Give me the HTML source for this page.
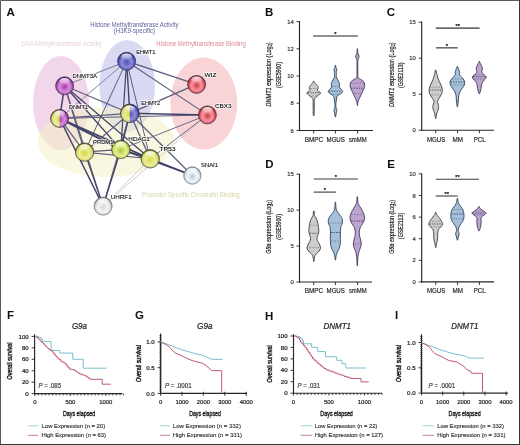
<!DOCTYPE html>
<html><head><meta charset="utf-8"><style>
html,body{margin:0;padding:0;background:#fff;}
svg{display:block;will-change:transform;}
text{font-family:"Liberation Sans", sans-serif;}
</style></head><body>
<svg width="520" height="445" viewBox="0 0 520 445">
<rect x="0" y="0" width="520" height="445" fill="#fff"/>
<defs>
<radialGradient id="gblue" cx="0.5" cy="0.56" r="0.52"><stop offset="0" stop-color="#5050b4"/><stop offset="0.55" stop-color="#8c8cd8"/><stop offset="0.84" stop-color="#5a5abc"/><stop offset="1" stop-color="#26266e"/></radialGradient>
<radialGradient id="gmag" cx="0.5" cy="0.56" r="0.52"><stop offset="0" stop-color="#a838b0"/><stop offset="0.55" stop-color="#d690d8"/><stop offset="0.84" stop-color="#b04cb8"/><stop offset="1" stop-color="#5e1664"/></radialGradient>
<radialGradient id="gred" cx="0.5" cy="0.56" r="0.52"><stop offset="0" stop-color="#d83848"/><stop offset="0.55" stop-color="#f49aa2"/><stop offset="0.84" stop-color="#dc4a58"/><stop offset="1" stop-color="#8c1a28"/></radialGradient>
<radialGradient id="gyel" cx="0.5" cy="0.56" r="0.52"><stop offset="0" stop-color="#d2dc3c"/><stop offset="0.55" stop-color="#ececa0"/><stop offset="0.84" stop-color="#d6d660"/><stop offset="1" stop-color="#6e6e1c"/></radialGradient>
<radialGradient id="ggrn" cx="0.5" cy="0.56" r="0.52"><stop offset="0" stop-color="#a8cc30"/><stop offset="0.55" stop-color="#e4ee98"/><stop offset="0.84" stop-color="#ccdc58"/><stop offset="1" stop-color="#6a7a1a"/></radialGradient>
<radialGradient id="gwht" cx="0.5" cy="0.56" r="0.52"><stop offset="0" stop-color="#d8d8d8"/><stop offset="0.55" stop-color="#f4f4f4"/><stop offset="0.84" stop-color="#d6d6d6"/><stop offset="1" stop-color="#7c7c7c"/></radialGradient>
<radialGradient id="gsna" cx="0.5" cy="0.56" r="0.52"><stop offset="0" stop-color="#b8ccd4"/><stop offset="0.55" stop-color="#f0f5f8"/><stop offset="0.84" stop-color="#cfdce2"/><stop offset="1" stop-color="#76868e"/></radialGradient>
<linearGradient id="ghl" x1="0" y1="0" x2="0" y2="1"><stop offset="0" stop-color="#fff" stop-opacity="0.9"/><stop offset="1" stop-color="#fff" stop-opacity="0.05"/></linearGradient>
</defs>
<ellipse cx="61" cy="103" rx="28" ry="47" fill="#f2d6ea"/>
<ellipse cx="127.2" cy="86" rx="27.8" ry="46" fill="#d6d6f3" opacity="0.92"/>
<ellipse cx="203.8" cy="103.5" rx="33.5" ry="46" fill="#f8d4d6"/>
<ellipse cx="106" cy="142" rx="68" ry="35" fill="#f4f1c4" opacity="0.55"/>
<text x="134.30" y="26.80" font-size="6.3" text-anchor="middle" fill="#5e5e9e" textLength="88.20" lengthAdjust="spacingAndGlyphs" stroke="none">Histone Methyltransferase Activity</text>
<text x="134.50" y="33.30" font-size="6.3" text-anchor="middle" fill="#5e5e9e" textLength="41.30" lengthAdjust="spacingAndGlyphs" stroke="none">(H3K9-specific)</text>
<text x="61.50" y="46.30" font-size="6.5" text-anchor="middle" fill="#e6d2de" textLength="80.40" lengthAdjust="spacingAndGlyphs" stroke="none">DNA Methyltransferase Activity</text>
<text x="201.00" y="46.10" font-size="6.5" text-anchor="middle" fill="#dc8898" textLength="89.30" lengthAdjust="spacingAndGlyphs" stroke="none">Histone Methyltransferase Binding</text>
<text x="190.80" y="197.30" font-size="6.5" text-anchor="middle" fill="#d6d4a2" textLength="97.70" lengthAdjust="spacingAndGlyphs" stroke="none">Promoter Specific Chromatin Binding</text>
<line x1="126.60" y1="61.20" x2="64.60" y2="85.80" stroke="#8686a4" stroke-width="1.1" />
<line x1="126.60" y1="61.20" x2="196.60" y2="84.40" stroke="#5c5c7c" stroke-width="1.3" />
<line x1="126.60" y1="61.20" x2="207.40" y2="114.90" stroke="#5c5c7c" stroke-width="1.1" />
<line x1="126.60" y1="61.20" x2="129.80" y2="113.30" stroke="#44446a" stroke-width="1.4" />
<line x1="126.60" y1="61.20" x2="120.80" y2="149.40" stroke="#44446a" stroke-width="1.2" />
<line x1="126.60" y1="61.20" x2="150.20" y2="158.80" stroke="#5c5c7c" stroke-width="1.0" />
<line x1="126.60" y1="61.20" x2="84.60" y2="152.10" stroke="#5c5c7c" stroke-width="1.0" />
<line x1="126.60" y1="61.20" x2="59.60" y2="118.40" stroke="#8686a4" stroke-width="1.0" />
<line x1="64.60" y1="85.80" x2="59.60" y2="118.40" stroke="#44446a" stroke-width="1.5" />
<line x1="64.60" y1="85.80" x2="129.80" y2="113.30" stroke="#5c5c7c" stroke-width="1.2" />
<line x1="64.60" y1="85.80" x2="120.80" y2="149.40" stroke="#44446a" stroke-width="1.4" />
<line x1="64.60" y1="85.80" x2="150.20" y2="158.80" stroke="#44446a" stroke-width="1.3" />
<line x1="64.60" y1="85.80" x2="84.60" y2="152.10" stroke="#5c5c7c" stroke-width="1.2" />
<line x1="64.60" y1="85.80" x2="103.10" y2="206.10" stroke="#5c5c7c" stroke-width="1.2" />
<line x1="59.60" y1="118.40" x2="129.80" y2="113.30" stroke="#5c5c7c" stroke-width="1.3" />
<line x1="59.60" y1="118.40" x2="120.80" y2="149.40" stroke="#44446a" stroke-width="1.9" />
<line x1="59.60" y1="118.40" x2="150.20" y2="158.80" stroke="#44446a" stroke-width="1.7" />
<line x1="59.60" y1="118.40" x2="84.60" y2="152.10" stroke="#5c5c7c" stroke-width="1.2" />
<line x1="59.60" y1="118.40" x2="103.10" y2="206.10" stroke="#44446a" stroke-width="1.4" />
<line x1="59.60" y1="118.40" x2="207.40" y2="114.90" stroke="#5c5c7c" stroke-width="1.0" />
<line x1="129.80" y1="113.30" x2="196.60" y2="84.40" stroke="#5c5c7c" stroke-width="1.3" />
<line x1="129.80" y1="113.30" x2="207.40" y2="114.90" stroke="#44446a" stroke-width="1.5" />
<line x1="129.80" y1="113.30" x2="120.80" y2="149.40" stroke="#44446a" stroke-width="1.6" />
<line x1="129.80" y1="113.30" x2="150.20" y2="158.80" stroke="#5c5c7c" stroke-width="1.3" />
<line x1="129.80" y1="113.30" x2="84.60" y2="152.10" stroke="#5c5c7c" stroke-width="1.2" />
<line x1="129.80" y1="113.30" x2="103.10" y2="206.10" stroke="#5c5c7c" stroke-width="1.1" />
<line x1="129.80" y1="113.30" x2="192.30" y2="175.50" stroke="#5c5c7c" stroke-width="1.2" />
<line x1="207.40" y1="114.90" x2="150.20" y2="158.80" stroke="#5c5c7c" stroke-width="0.9" />
<line x1="207.40" y1="114.90" x2="120.80" y2="149.40" stroke="#5c5c7c" stroke-width="0.9" />
<line x1="207.40" y1="114.90" x2="103.10" y2="206.10" stroke="#b0b0c6" stroke-width="0.6" />
<line x1="84.60" y1="152.10" x2="120.80" y2="149.40" stroke="#5c5c7c" stroke-width="1.3" />
<line x1="84.60" y1="152.10" x2="150.20" y2="158.80" stroke="#5c5c7c" stroke-width="1.1" />
<line x1="84.60" y1="152.10" x2="103.10" y2="206.10" stroke="#44446a" stroke-width="1.2" />
<line x1="120.80" y1="149.40" x2="150.20" y2="158.80" stroke="#44446a" stroke-width="1.7" />
<line x1="120.80" y1="149.40" x2="103.10" y2="206.10" stroke="#44446a" stroke-width="1.5" />
<line x1="120.80" y1="149.40" x2="192.30" y2="175.50" stroke="#44446a" stroke-width="1.3" />
<line x1="150.20" y1="158.80" x2="192.30" y2="175.50" stroke="#44446a" stroke-width="1.8" />
<line x1="150.20" y1="158.80" x2="103.10" y2="206.10" stroke="#b0b0c6" stroke-width="0.6" />
<circle cx="126.6" cy="61.2" r="9.0" fill="url(#gblue)" stroke="#30304a" stroke-width="0.7"/>
<circle cx="64.6" cy="85.8" r="9.0" fill="url(#gmag)" stroke="#30304a" stroke-width="0.7"/>
<circle cx="196.6" cy="84.4" r="9.0" fill="url(#gred)" stroke="#30304a" stroke-width="0.7"/>
<clipPath id="clDNMT1"><rect x="49.6" y="108.4" width="10.0" height="20.0"/></clipPath>
<circle cx="59.6" cy="118.4" r="9.0" fill="url(#gmag)"/>
<circle cx="59.6" cy="118.4" r="9.0" fill="url(#gyel)" clip-path="url(#clDNMT1)"/>
<circle cx="59.6" cy="118.4" r="9.0" fill="none" stroke="#30304a" stroke-width="0.7"/>
<clipPath id="clEHMT2"><rect x="119.50000000000001" y="103.0" width="10.3" height="20.6"/></clipPath>
<circle cx="129.8" cy="113.3" r="9.3" fill="url(#gblue)"/>
<circle cx="129.8" cy="113.3" r="9.3" fill="url(#gyel)" clip-path="url(#clEHMT2)"/>
<circle cx="129.8" cy="113.3" r="9.3" fill="none" stroke="#30304a" stroke-width="0.7"/>
<circle cx="207.4" cy="114.9" r="9.0" fill="url(#gred)" stroke="#30304a" stroke-width="0.7"/>
<circle cx="84.6" cy="152.1" r="9.2" fill="url(#gyel)" stroke="#30304a" stroke-width="0.7"/>
<circle cx="120.8" cy="149.4" r="9.2" fill="url(#ggrn)" stroke="#30304a" stroke-width="0.7"/>
<circle cx="150.2" cy="158.8" r="9.2" fill="url(#gyel)" stroke="#30304a" stroke-width="0.7"/>
<circle cx="192.3" cy="175.5" r="8.7" fill="url(#gsna)" stroke="#6a7a84" stroke-width="0.7"/>
<circle cx="103.1" cy="206.1" r="9.0" fill="url(#gwht)" stroke="#6a6a72" stroke-width="0.7"/>
<ellipse cx="126.6" cy="56.400000000000006" rx="5.4" ry="3.0" fill="url(#ghl)"/>
<ellipse cx="64.6" cy="81.0" rx="5.4" ry="3.0" fill="url(#ghl)"/>
<ellipse cx="196.6" cy="79.60000000000001" rx="5.4" ry="3.0" fill="url(#ghl)"/>
<ellipse cx="59.6" cy="113.60000000000001" rx="5.4" ry="3.0" fill="url(#ghl)"/>
<ellipse cx="129.8" cy="108.5" rx="5.4" ry="3.0" fill="url(#ghl)"/>
<ellipse cx="207.4" cy="110.10000000000001" rx="5.4" ry="3.0" fill="url(#ghl)"/>
<ellipse cx="84.6" cy="147.29999999999998" rx="5.4" ry="3.0" fill="url(#ghl)"/>
<ellipse cx="120.8" cy="144.6" rx="5.4" ry="3.0" fill="url(#ghl)"/>
<ellipse cx="150.2" cy="154.0" rx="5.4" ry="3.0" fill="url(#ghl)"/>
<ellipse cx="192.3" cy="170.7" rx="5.4" ry="3.0" fill="url(#ghl)"/>
<ellipse cx="103.1" cy="201.29999999999998" rx="5.4" ry="3.0" fill="url(#ghl)"/>
<text x="136.20" y="54.00" font-size="6.2" text-anchor="start" fill="#fff" textLength="19.30" lengthAdjust="spacingAndGlyphs" stroke="#fff" stroke-width="1.8" stroke-opacity="0.7" stroke-linejoin="round" fill-opacity="0.7">EHMT1</text>
<text x="136.20" y="54.00" font-size="6.2" text-anchor="start" fill="#0c0c0c" textLength="19.30" lengthAdjust="spacingAndGlyphs" stroke="#0c0c0c" stroke-width="0.1">EHMT1</text>
<text x="72.50" y="78.00" font-size="6.2" text-anchor="start" fill="#fff" textLength="24.50" lengthAdjust="spacingAndGlyphs" stroke="#fff" stroke-width="1.8" stroke-opacity="0.7" stroke-linejoin="round" fill-opacity="0.7">DNMT3A</text>
<text x="72.50" y="78.00" font-size="6.2" text-anchor="start" fill="#0c0c0c" textLength="24.50" lengthAdjust="spacingAndGlyphs" stroke="#0c0c0c" stroke-width="0.1">DNMT3A</text>
<text x="204.50" y="76.90" font-size="6.2" text-anchor="start" fill="#fff" textLength="11.90" lengthAdjust="spacingAndGlyphs" stroke="#fff" stroke-width="1.8" stroke-opacity="0.7" stroke-linejoin="round" fill-opacity="0.7">WIZ</text>
<text x="204.50" y="76.90" font-size="6.2" text-anchor="start" fill="#0c0c0c" textLength="11.90" lengthAdjust="spacingAndGlyphs" stroke="#0c0c0c" stroke-width="0.1">WIZ</text>
<text x="68.90" y="109.20" font-size="6.2" text-anchor="start" fill="#fff" textLength="19.00" lengthAdjust="spacingAndGlyphs" stroke="#fff" stroke-width="1.8" stroke-opacity="0.7" stroke-linejoin="round" fill-opacity="0.7">DNMT1</text>
<text x="68.90" y="109.20" font-size="6.2" text-anchor="start" fill="#0c0c0c" textLength="19.00" lengthAdjust="spacingAndGlyphs" stroke="#0c0c0c" stroke-width="0.1">DNMT1</text>
<text x="141.20" y="104.60" font-size="6.2" text-anchor="start" fill="#fff" textLength="18.80" lengthAdjust="spacingAndGlyphs" stroke="#fff" stroke-width="1.8" stroke-opacity="0.7" stroke-linejoin="round" fill-opacity="0.7">EHMT2</text>
<text x="141.20" y="104.60" font-size="6.2" text-anchor="start" fill="#0c0c0c" textLength="18.80" lengthAdjust="spacingAndGlyphs" stroke="#0c0c0c" stroke-width="0.1">EHMT2</text>
<text x="214.90" y="107.50" font-size="6.2" text-anchor="start" fill="#fff" textLength="16.80" lengthAdjust="spacingAndGlyphs" stroke="#fff" stroke-width="1.8" stroke-opacity="0.7" stroke-linejoin="round" fill-opacity="0.7">CBX3</text>
<text x="214.90" y="107.50" font-size="6.2" text-anchor="start" fill="#0c0c0c" textLength="16.80" lengthAdjust="spacingAndGlyphs" stroke="#0c0c0c" stroke-width="0.1">CBX3</text>
<text x="93.00" y="144.00" font-size="6.2" text-anchor="start" fill="#fff" textLength="20.50" lengthAdjust="spacingAndGlyphs" stroke="#fff" stroke-width="1.8" stroke-opacity="0.7" stroke-linejoin="round" fill-opacity="0.7">PRDM1</text>
<text x="93.00" y="144.00" font-size="6.2" text-anchor="start" fill="#0c0c0c" textLength="20.50" lengthAdjust="spacingAndGlyphs" stroke="#0c0c0c" stroke-width="0.1">PRDM1</text>
<text x="128.30" y="141.20" font-size="6.2" text-anchor="start" fill="#fff" textLength="21.50" lengthAdjust="spacingAndGlyphs" stroke="#fff" stroke-width="1.8" stroke-opacity="0.7" stroke-linejoin="round" fill-opacity="0.7">HDAC1</text>
<text x="128.30" y="141.20" font-size="6.2" text-anchor="start" fill="#0c0c0c" textLength="21.50" lengthAdjust="spacingAndGlyphs" stroke="#0c0c0c" stroke-width="0.1">HDAC1</text>
<text x="159.20" y="150.60" font-size="6.2" text-anchor="start" fill="#fff" textLength="16.50" lengthAdjust="spacingAndGlyphs" stroke="#fff" stroke-width="1.8" stroke-opacity="0.7" stroke-linejoin="round" fill-opacity="0.7">TP53</text>
<text x="159.20" y="150.60" font-size="6.2" text-anchor="start" fill="#0c0c0c" textLength="16.50" lengthAdjust="spacingAndGlyphs" stroke="#0c0c0c" stroke-width="0.1">TP53</text>
<text x="201.00" y="167.30" font-size="6.2" text-anchor="start" fill="#fff" textLength="17.00" lengthAdjust="spacingAndGlyphs" stroke="#fff" stroke-width="1.8" stroke-opacity="0.7" stroke-linejoin="round" fill-opacity="0.7">SNAI1</text>
<text x="201.00" y="167.30" font-size="6.2" text-anchor="start" fill="#0c0c0c" textLength="17.00" lengthAdjust="spacingAndGlyphs" stroke="#0c0c0c" stroke-width="0.1">SNAI1</text>
<text x="110.70" y="199.00" font-size="6.2" text-anchor="start" fill="#fff" textLength="21.00" lengthAdjust="spacingAndGlyphs" stroke="#fff" stroke-width="1.8" stroke-opacity="0.7" stroke-linejoin="round" fill-opacity="0.7">UHRF1</text>
<text x="110.70" y="199.00" font-size="6.2" text-anchor="start" fill="#0c0c0c" textLength="21.00" lengthAdjust="spacingAndGlyphs" stroke="#0c0c0c" stroke-width="0.1">UHRF1</text>
<text x="6.40" y="15.90" font-size="11.5" text-anchor="start" font-weight="bold" fill="#111" >A</text>
<text x="265.10" y="15.90" font-size="11.5" text-anchor="start" font-weight="bold" fill="#111" >B</text>
<text x="386.80" y="16.00" font-size="11.5" text-anchor="start" font-weight="bold" fill="#111" >C</text>
<text x="265.30" y="167.80" font-size="11.5" text-anchor="start" font-weight="bold" fill="#111" >D</text>
<text x="387.30" y="167.80" font-size="11.5" text-anchor="start" font-weight="bold" fill="#111" >E</text>
<text x="7.10" y="319.20" font-size="11.5" text-anchor="start" font-weight="bold" fill="#111" >F</text>
<text x="134.90" y="319.30" font-size="11.5" text-anchor="start" font-weight="bold" fill="#111" >G</text>
<text x="264.90" y="319.60" font-size="11.5" text-anchor="start" font-weight="bold" fill="#111" >H</text>
<text x="395.00" y="319.00" font-size="11.5" text-anchor="start" font-weight="bold" fill="#111" >I</text>
<line x1="299.50" y1="21.00" x2="299.50" y2="131.05" stroke="#262626" stroke-width="1.15" />
<line x1="298.95" y1="130.50" x2="373.00" y2="130.50" stroke="#262626" stroke-width="1.15" />
<line x1="296.50" y1="21.60" x2="299.50" y2="21.60" stroke="#262626" stroke-width="0.9" />
<text x="293.70" y="23.70" font-size="5.9" text-anchor="end" fill="#333" stroke="#333" stroke-width="0.16" >14</text>
<line x1="296.50" y1="48.80" x2="299.50" y2="48.80" stroke="#262626" stroke-width="0.9" />
<text x="293.70" y="50.90" font-size="5.9" text-anchor="end" fill="#333" stroke="#333" stroke-width="0.16" >12</text>
<line x1="296.50" y1="76.00" x2="299.50" y2="76.00" stroke="#262626" stroke-width="0.9" />
<text x="293.70" y="78.10" font-size="5.9" text-anchor="end" fill="#333" stroke="#333" stroke-width="0.16" >10</text>
<line x1="296.50" y1="103.20" x2="299.50" y2="103.20" stroke="#262626" stroke-width="0.9" />
<text x="293.70" y="105.30" font-size="5.9" text-anchor="end" fill="#333" stroke="#333" stroke-width="0.16" >8</text>
<line x1="296.50" y1="130.40" x2="299.50" y2="130.40" stroke="#262626" stroke-width="0.9" />
<text x="293.70" y="132.50" font-size="5.9" text-anchor="end" fill="#333" stroke="#333" stroke-width="0.16" >6</text>
<line x1="313.70" y1="130.50" x2="313.70" y2="133.50" stroke="#262626" stroke-width="0.9" />
<text x="314.00" y="141.80" font-size="6.5" text-anchor="middle" fill="#222" textLength="18.50" lengthAdjust="spacingAndGlyphs" stroke="#222" stroke-width="0.16" >BMPC</text>
<line x1="335.40" y1="130.50" x2="335.40" y2="133.50" stroke="#262626" stroke-width="0.9" />
<text x="335.70" y="141.80" font-size="6.5" text-anchor="middle" fill="#222" textLength="18.30" lengthAdjust="spacingAndGlyphs" stroke="#222" stroke-width="0.16" >MGUS</text>
<line x1="357.50" y1="130.50" x2="357.50" y2="133.50" stroke="#262626" stroke-width="0.9" />
<text x="357.80" y="141.80" font-size="6.5" text-anchor="middle" fill="#222" textLength="17.80" lengthAdjust="spacingAndGlyphs" stroke="#222" stroke-width="0.16" >smMM</text>
<text transform="translate(271.00,74.40) rotate(-90)" x="0" y="0" font-size="7" text-anchor="middle" fill="#222" textLength="64.20" lengthAdjust="spacingAndGlyphs" stroke="#222" stroke-width="0.2"><tspan font-style="italic">DNMT1</tspan> expression (Log<tspan font-size="4.8" dy="1.3">2</tspan><tspan dy="-1.3">)</tspan></text>
<text transform="translate(280.70,75.00) rotate(-90)" x="0" y="0" font-size="7" text-anchor="middle" fill="#222" textLength="26.00" lengthAdjust="spacingAndGlyphs" stroke="#222" stroke-width="0.2">(GSE5900)</text>
<line x1="313.10" y1="36.00" x2="357.80" y2="36.00" stroke="#6c6c6c" stroke-width="1.6" />
<text x="335.45" y="35.70" font-size="5.6" text-anchor="middle" fill="#222" stroke="#222" stroke-width="0.25">*</text>
<path d="M314.00,81.20 C314.08,81.42 314.12,81.95 314.50,82.50 C314.88,83.05 315.77,83.83 316.30,84.50 C316.83,85.17 317.38,85.87 317.70,86.50 C318.02,87.13 318.28,87.72 318.20,88.30 C318.12,88.88 317.20,89.52 317.20,90.00 C317.20,90.48 317.62,90.70 318.20,91.20 C318.78,91.70 320.62,92.37 320.70,93.00 C320.78,93.63 319.43,94.33 318.70,95.00 C317.97,95.67 316.97,96.40 316.30,97.00 C315.63,97.60 315.05,97.93 314.70,98.60 C314.35,99.27 314.27,99.93 314.20,101.00 C314.13,102.07 314.31,103.67 314.30,105.00 C314.29,106.33 314.15,107.83 314.15,109.00 C314.15,110.17 314.32,110.90 314.30,112.00 C314.28,113.10 314.05,115.00 314.00,115.60 L313.40,115.60 C313.35,115.00 313.12,113.10 313.10,112.00 C313.07,110.90 313.25,110.17 313.25,109.00 C313.25,107.83 313.11,106.33 313.10,105.00 C313.09,103.67 313.27,102.07 313.20,101.00 C313.13,99.93 313.05,99.27 312.70,98.60 C312.35,97.93 311.77,97.60 311.10,97.00 C310.43,96.40 309.43,95.67 308.70,95.00 C307.97,94.33 306.62,93.63 306.70,93.00 C306.78,92.37 308.62,91.70 309.20,91.20 C309.78,90.70 310.20,90.48 310.20,90.00 C310.20,89.52 309.28,88.88 309.20,88.30 C309.12,87.72 309.38,87.13 309.70,86.50 C310.02,85.87 310.57,85.17 311.10,84.50 C311.63,83.83 312.52,83.05 312.90,82.50 C313.28,81.95 313.32,81.42 313.40,81.20Z" fill="#cdcdce" stroke="#363636" stroke-width="0.85" stroke-linejoin="round"/>
<line x1="309.92" y1="88.50" x2="317.48" y2="88.50" stroke="#363636" stroke-width="0.55" stroke-dasharray="0.6,0.9"/>
<line x1="307.58" y1="92.80" x2="319.82" y2="92.80" stroke="#363636" stroke-width="0.8" stroke-dasharray="1.4,1.1"/>
<line x1="310.50" y1="96.00" x2="316.90" y2="96.00" stroke="#363636" stroke-width="0.55" stroke-dasharray="0.6,0.9"/>
<path d="M335.70,65.40 C335.75,65.75 335.80,66.73 336.00,67.50 C336.20,68.27 336.88,69.25 336.90,70.00 C336.92,70.75 336.15,71.42 336.10,72.00 C336.05,72.58 336.58,72.92 336.60,73.50 C336.62,74.08 336.20,74.75 336.20,75.50 C336.20,76.25 336.32,77.25 336.60,78.00 C336.88,78.75 337.48,79.25 337.90,80.00 C338.32,80.75 338.80,81.67 339.10,82.50 C339.40,83.33 339.72,84.25 339.70,85.00 C339.68,85.75 338.75,86.28 339.00,87.00 C339.25,87.72 340.60,88.50 341.20,89.30 C341.80,90.10 342.65,91.08 342.60,91.80 C342.55,92.52 341.72,92.98 340.90,93.60 C340.08,94.22 338.38,94.85 337.70,95.50 C337.02,96.15 337.02,96.75 336.80,97.50 C336.58,98.25 336.55,99.08 336.40,100.00 C336.25,100.92 335.98,101.92 335.90,103.00 C335.82,104.08 335.83,105.58 335.90,106.50 C335.97,107.42 336.13,107.78 336.30,108.50 C336.47,109.22 336.92,110.05 336.90,110.80 C336.88,111.55 336.40,112.00 336.20,113.00 C336.00,114.00 335.78,116.17 335.70,116.80 L335.10,116.80 C335.02,116.17 334.80,114.00 334.60,113.00 C334.40,112.00 333.92,111.55 333.90,110.80 C333.88,110.05 334.33,109.22 334.50,108.50 C334.67,107.78 334.83,107.42 334.90,106.50 C334.97,105.58 334.98,104.08 334.90,103.00 C334.82,101.92 334.55,100.92 334.40,100.00 C334.25,99.08 334.22,98.25 334.00,97.50 C333.78,96.75 333.78,96.15 333.10,95.50 C332.42,94.85 330.72,94.22 329.90,93.60 C329.08,92.98 328.25,92.52 328.20,91.80 C328.15,91.08 329.00,90.10 329.60,89.30 C330.20,88.50 331.55,87.72 331.80,87.00 C332.05,86.28 331.12,85.75 331.10,85.00 C331.08,84.25 331.40,83.33 331.70,82.50 C332.00,81.67 332.48,80.75 332.90,80.00 C333.32,79.25 333.92,78.75 334.20,78.00 C334.48,77.25 334.60,76.25 334.60,75.50 C334.60,74.75 334.18,74.08 334.20,73.50 C334.22,72.92 334.75,72.58 334.70,72.00 C334.65,71.42 333.88,70.75 333.90,70.00 C333.92,69.25 334.60,68.27 334.80,67.50 C335.00,66.73 335.05,65.75 335.10,65.40Z" fill="#a4c0da" stroke="#2a3a4c" stroke-width="0.85" stroke-linejoin="round"/>
<line x1="332.23" y1="86.50" x2="338.57" y2="86.50" stroke="#2a3a4c" stroke-width="0.55" stroke-dasharray="0.6,0.9"/>
<line x1="329.14" y1="91.20" x2="341.66" y2="91.20" stroke="#2a3a4c" stroke-width="0.8" stroke-dasharray="1.4,1.1"/>
<line x1="331.68" y1="94.30" x2="339.12" y2="94.30" stroke="#2a3a4c" stroke-width="0.55" stroke-dasharray="0.6,0.9"/>
<path d="M357.60,48.70 C357.62,49.25 357.68,51.20 357.75,52.00 C357.82,52.80 357.84,53.00 358.00,53.50 C358.16,54.00 358.52,54.47 358.70,55.00 C358.88,55.53 359.12,56.15 359.10,56.70 C359.08,57.25 358.78,57.80 358.60,58.30 C358.42,58.80 358.13,59.17 358.00,59.70 C357.87,60.23 357.83,59.78 357.80,61.50 C357.77,63.22 357.79,67.42 357.80,70.00 C357.81,72.58 357.75,75.63 357.85,77.00 C357.95,78.37 357.97,77.83 358.40,78.20 C358.82,78.57 359.73,78.82 360.40,79.20 C361.07,79.58 361.82,80.03 362.40,80.50 C362.98,80.97 363.53,81.42 363.90,82.00 C364.27,82.58 364.48,83.25 364.60,84.00 C364.72,84.75 364.70,85.75 364.60,86.50 C364.50,87.25 364.30,87.75 364.00,88.50 C363.70,89.25 363.23,90.08 362.80,91.00 C362.37,91.92 361.87,93.00 361.40,94.00 C360.93,95.00 360.45,96.00 360.00,97.00 C359.55,98.00 359.05,99.17 358.70,100.00 C358.35,100.83 358.07,101.42 357.90,102.00 C357.73,102.58 357.75,102.92 357.70,103.50 C357.65,104.08 357.62,105.17 357.60,105.50 L357.20,105.50 C357.18,105.17 357.15,104.08 357.10,103.50 C357.05,102.92 357.07,102.58 356.90,102.00 C356.73,101.42 356.45,100.83 356.10,100.00 C355.75,99.17 355.25,98.00 354.80,97.00 C354.35,96.00 353.87,95.00 353.40,94.00 C352.93,93.00 352.43,91.92 352.00,91.00 C351.57,90.08 351.10,89.25 350.80,88.50 C350.50,87.75 350.30,87.25 350.20,86.50 C350.10,85.75 350.08,84.75 350.20,84.00 C350.32,83.25 350.53,82.58 350.90,82.00 C351.27,81.42 351.82,80.97 352.40,80.50 C352.98,80.03 353.73,79.58 354.40,79.20 C355.07,78.82 355.97,78.57 356.40,78.20 C356.82,77.83 356.85,78.37 356.95,77.00 C357.05,75.63 356.99,72.58 357.00,70.00 C357.01,67.42 357.03,63.22 357.00,61.50 C356.97,59.78 356.93,60.23 356.80,59.70 C356.67,59.17 356.38,58.80 356.20,58.30 C356.02,57.80 355.72,57.25 355.70,56.70 C355.68,56.15 355.92,55.53 356.10,55.00 C356.28,54.47 356.64,54.00 356.80,53.50 C356.96,53.00 356.98,52.80 357.05,52.00 C357.12,51.20 357.17,49.25 357.20,48.70Z" fill="#bca4d0" stroke="#3e2e4a" stroke-width="0.85" stroke-linejoin="round"/>
<line x1="351.15" y1="83.00" x2="363.65" y2="83.00" stroke="#3e2e4a" stroke-width="0.55" stroke-dasharray="0.6,0.9"/>
<line x1="351.31" y1="88.20" x2="363.49" y2="88.20" stroke="#3e2e4a" stroke-width="0.8" stroke-dasharray="1.4,1.1"/>
<line x1="353.77" y1="93.50" x2="361.03" y2="93.50" stroke="#3e2e4a" stroke-width="0.55" stroke-dasharray="0.6,0.9"/>
<line x1="421.70" y1="21.60" x2="421.70" y2="130.75" stroke="#262626" stroke-width="1.15" />
<line x1="421.15" y1="130.20" x2="494.00" y2="130.20" stroke="#262626" stroke-width="1.15" />
<line x1="418.70" y1="22.20" x2="421.70" y2="22.20" stroke="#262626" stroke-width="0.9" />
<text x="415.90" y="24.30" font-size="5.9" text-anchor="end" fill="#333" stroke="#333" stroke-width="0.16" >15</text>
<line x1="418.70" y1="58.20" x2="421.70" y2="58.20" stroke="#262626" stroke-width="0.9" />
<text x="415.90" y="60.30" font-size="5.9" text-anchor="end" fill="#333" stroke="#333" stroke-width="0.16" >10</text>
<line x1="418.70" y1="94.20" x2="421.70" y2="94.20" stroke="#262626" stroke-width="0.9" />
<text x="415.90" y="96.30" font-size="5.9" text-anchor="end" fill="#333" stroke="#333" stroke-width="0.16" >5</text>
<line x1="418.70" y1="130.20" x2="421.70" y2="130.20" stroke="#262626" stroke-width="0.9" />
<text x="415.90" y="132.30" font-size="5.9" text-anchor="end" fill="#333" stroke="#333" stroke-width="0.16" >0</text>
<line x1="435.80" y1="130.20" x2="435.80" y2="133.20" stroke="#262626" stroke-width="0.9" />
<text x="436.10" y="141.50" font-size="6.5" text-anchor="middle" fill="#222" textLength="18.30" lengthAdjust="spacingAndGlyphs" stroke="#222" stroke-width="0.16" >MGUS</text>
<line x1="457.50" y1="130.20" x2="457.50" y2="133.20" stroke="#262626" stroke-width="0.9" />
<text x="457.80" y="141.50" font-size="6.5" text-anchor="middle" fill="#222" textLength="10.50" lengthAdjust="spacingAndGlyphs" stroke="#222" stroke-width="0.16" >MM</text>
<line x1="479.40" y1="130.20" x2="479.40" y2="133.20" stroke="#262626" stroke-width="0.9" />
<text x="479.70" y="141.50" font-size="6.5" text-anchor="middle" fill="#222" textLength="12.00" lengthAdjust="spacingAndGlyphs" stroke="#222" stroke-width="0.16" >PCL</text>
<text transform="translate(393.50,74.60) rotate(-90)" x="0" y="0" font-size="7" text-anchor="middle" fill="#222" textLength="64.60" lengthAdjust="spacingAndGlyphs" stroke="#222" stroke-width="0.2"><tspan font-style="italic">DNMT1</tspan> expression (Log<tspan font-size="4.8" dy="1.3">2</tspan><tspan dy="-1.3">)</tspan></text>
<text transform="translate(402.60,75.30) rotate(-90)" x="0" y="0" font-size="7" text-anchor="middle" fill="#222" textLength="25.50" lengthAdjust="spacingAndGlyphs" stroke="#222" stroke-width="0.2">(GSE2113)</text>
<line x1="435.80" y1="28.10" x2="479.60" y2="28.10" stroke="#6c6c6c" stroke-width="1.6" />
<text x="457.70" y="27.80" font-size="5.6" text-anchor="middle" fill="#222" stroke="#222" stroke-width="0.25">**</text>
<line x1="435.80" y1="47.80" x2="457.70" y2="47.80" stroke="#6c6c6c" stroke-width="1.6" />
<text x="446.75" y="47.50" font-size="5.6" text-anchor="middle" fill="#222" stroke="#222" stroke-width="0.25">*</text>
<path d="M436.00,70.20 C436.05,70.50 436.12,71.20 436.30,72.00 C436.48,72.80 436.83,74.00 437.10,75.00 C437.37,76.00 437.58,77.00 437.90,78.00 C438.22,79.00 438.57,80.00 439.00,81.00 C439.43,82.00 440.05,83.00 440.50,84.00 C440.95,85.00 441.40,86.00 441.70,87.00 C442.00,88.00 442.25,89.00 442.30,90.00 C442.35,91.00 442.30,92.00 442.00,93.00 C441.70,94.00 441.02,95.08 440.50,96.00 C439.98,96.92 439.42,97.58 438.90,98.50 C438.38,99.42 437.53,100.58 437.40,101.50 C437.27,102.42 437.90,103.17 438.10,104.00 C438.30,104.83 438.57,105.67 438.60,106.50 C438.63,107.33 438.48,108.17 438.30,109.00 C438.12,109.83 437.78,110.67 437.50,111.50 C437.22,112.33 436.82,113.17 436.60,114.00 C436.38,114.83 436.30,115.77 436.20,116.50 C436.10,117.23 436.03,118.08 436.00,118.40 L435.40,118.40 C435.37,118.08 435.30,117.23 435.20,116.50 C435.10,115.77 435.02,114.83 434.80,114.00 C434.58,113.17 434.18,112.33 433.90,111.50 C433.62,110.67 433.28,109.83 433.10,109.00 C432.92,108.17 432.77,107.33 432.80,106.50 C432.83,105.67 433.10,104.83 433.30,104.00 C433.50,103.17 434.13,102.42 434.00,101.50 C433.87,100.58 433.02,99.42 432.50,98.50 C431.98,97.58 431.42,96.92 430.90,96.00 C430.38,95.08 429.70,94.00 429.40,93.00 C429.10,92.00 429.05,91.00 429.10,90.00 C429.15,89.00 429.40,88.00 429.70,87.00 C430.00,86.00 430.45,85.00 430.90,84.00 C431.35,83.00 431.97,82.00 432.40,81.00 C432.83,80.00 433.18,79.00 433.50,78.00 C433.82,77.00 434.03,76.00 434.30,75.00 C434.57,74.00 434.92,72.80 435.10,72.00 C435.28,71.20 435.35,70.50 435.40,70.20Z" fill="#cdcdce" stroke="#363636" stroke-width="0.85" stroke-linejoin="round"/>
<line x1="430.26" y1="87.20" x2="441.14" y2="87.20" stroke="#363636" stroke-width="0.55" stroke-dasharray="0.6,0.9"/>
<line x1="429.70" y1="90.00" x2="441.70" y2="90.00" stroke="#363636" stroke-width="0.8" stroke-dasharray="1.4,1.1"/>
<line x1="430.90" y1="94.80" x2="440.50" y2="94.80" stroke="#363636" stroke-width="0.55" stroke-dasharray="0.6,0.9"/>
<path d="M457.70,66.60 C457.82,66.92 458.18,67.90 458.40,68.50 C458.62,69.10 458.78,69.55 459.00,70.20 C459.22,70.85 459.62,71.68 459.70,72.40 C459.78,73.12 459.38,73.90 459.50,74.50 C459.62,75.10 459.92,75.42 460.40,76.00 C460.88,76.58 461.82,77.33 462.40,78.00 C462.98,78.67 463.52,79.33 463.90,80.00 C464.28,80.67 464.62,81.17 464.70,82.00 C464.78,82.83 464.78,84.00 464.40,85.00 C464.02,86.00 463.07,87.00 462.40,88.00 C461.73,89.00 460.90,90.17 460.40,91.00 C459.90,91.83 459.68,92.17 459.40,93.00 C459.12,93.83 458.87,94.83 458.70,96.00 C458.53,97.17 458.50,98.75 458.40,100.00 C458.30,101.25 458.22,102.38 458.10,103.50 C457.98,104.62 457.77,106.17 457.70,106.70 L457.10,106.70 C457.03,106.17 456.82,104.62 456.70,103.50 C456.58,102.38 456.50,101.25 456.40,100.00 C456.30,98.75 456.27,97.17 456.10,96.00 C455.93,94.83 455.68,93.83 455.40,93.00 C455.12,92.17 454.90,91.83 454.40,91.00 C453.90,90.17 453.07,89.00 452.40,88.00 C451.73,87.00 450.78,86.00 450.40,85.00 C450.02,84.00 450.02,82.83 450.10,82.00 C450.18,81.17 450.52,80.67 450.90,80.00 C451.28,79.33 451.82,78.67 452.40,78.00 C452.98,77.33 453.92,76.58 454.40,76.00 C454.88,75.42 455.18,75.10 455.30,74.50 C455.42,73.90 455.02,73.12 455.10,72.40 C455.18,71.68 455.58,70.85 455.80,70.20 C456.02,69.55 456.18,69.10 456.40,68.50 C456.62,67.90 456.98,66.92 457.10,66.60Z" fill="#a4c0da" stroke="#2a3a4c" stroke-width="0.85" stroke-linejoin="round"/>
<line x1="452.25" y1="79.00" x2="462.55" y2="79.00" stroke="#2a3a4c" stroke-width="0.55" stroke-dasharray="0.6,0.9"/>
<line x1="450.70" y1="82.00" x2="464.10" y2="82.00" stroke="#2a3a4c" stroke-width="0.8" stroke-dasharray="1.4,1.1"/>
<line x1="450.98" y1="84.80" x2="463.82" y2="84.80" stroke="#2a3a4c" stroke-width="0.55" stroke-dasharray="0.6,0.9"/>
<path d="M479.60,61.50 C479.72,61.83 479.95,62.75 480.30,63.50 C480.65,64.25 481.35,65.12 481.70,66.00 C482.05,66.88 482.38,67.88 482.40,68.80 C482.42,69.72 481.82,70.80 481.80,71.50 C481.78,72.20 481.85,72.42 482.30,73.00 C482.75,73.58 483.83,74.33 484.50,75.00 C485.17,75.67 486.17,76.33 486.30,77.00 C486.43,77.67 485.80,78.33 485.30,79.00 C484.80,79.67 483.87,80.25 483.30,81.00 C482.73,81.75 482.23,82.67 481.90,83.50 C481.57,84.33 481.45,85.17 481.30,86.00 C481.15,86.83 481.15,87.67 481.00,88.50 C480.85,89.33 480.63,90.15 480.40,91.00 C480.17,91.85 479.73,93.17 479.60,93.60 L479.00,93.60 C478.87,93.17 478.43,91.85 478.20,91.00 C477.97,90.15 477.75,89.33 477.60,88.50 C477.45,87.67 477.45,86.83 477.30,86.00 C477.15,85.17 477.03,84.33 476.70,83.50 C476.37,82.67 475.87,81.75 475.30,81.00 C474.73,80.25 473.80,79.67 473.30,79.00 C472.80,78.33 472.17,77.67 472.30,77.00 C472.43,76.33 473.43,75.67 474.10,75.00 C474.77,74.33 475.85,73.58 476.30,73.00 C476.75,72.42 476.82,72.20 476.80,71.50 C476.78,70.80 476.18,69.72 476.20,68.80 C476.22,67.88 476.55,66.88 476.90,66.00 C477.25,65.12 477.95,64.25 478.30,63.50 C478.65,62.75 478.88,61.83 479.00,61.50Z" fill="#bca4d0" stroke="#3e2e4a" stroke-width="0.85" stroke-linejoin="round"/>
<line x1="475.14" y1="74.60" x2="483.46" y2="74.60" stroke="#3e2e4a" stroke-width="0.55" stroke-dasharray="0.6,0.9"/>
<line x1="473.08" y1="76.80" x2="485.52" y2="76.80" stroke="#3e2e4a" stroke-width="0.8" stroke-dasharray="1.4,1.1"/>
<line x1="474.10" y1="79.20" x2="484.50" y2="79.20" stroke="#3e2e4a" stroke-width="0.55" stroke-dasharray="0.6,0.9"/>
<line x1="299.50" y1="173.60" x2="299.50" y2="282.55" stroke="#262626" stroke-width="1.15" />
<line x1="298.95" y1="282.00" x2="372.00" y2="282.00" stroke="#262626" stroke-width="1.15" />
<line x1="296.50" y1="174.20" x2="299.50" y2="174.20" stroke="#262626" stroke-width="0.9" />
<text x="293.70" y="176.30" font-size="5.9" text-anchor="end" fill="#333" stroke="#333" stroke-width="0.16" >15</text>
<line x1="296.50" y1="210.13" x2="299.50" y2="210.13" stroke="#262626" stroke-width="0.9" />
<text x="293.70" y="212.23" font-size="5.9" text-anchor="end" fill="#333" stroke="#333" stroke-width="0.16" >10</text>
<line x1="296.50" y1="246.07" x2="299.50" y2="246.07" stroke="#262626" stroke-width="0.9" />
<text x="293.70" y="248.17" font-size="5.9" text-anchor="end" fill="#333" stroke="#333" stroke-width="0.16" >5</text>
<line x1="296.50" y1="282.00" x2="299.50" y2="282.00" stroke="#262626" stroke-width="0.9" />
<text x="293.70" y="284.11" font-size="5.9" text-anchor="end" fill="#333" stroke="#333" stroke-width="0.16" >0</text>
<line x1="313.70" y1="282.00" x2="313.70" y2="285.00" stroke="#262626" stroke-width="0.9" />
<text x="314.00" y="293.30" font-size="6.5" text-anchor="middle" fill="#222" textLength="18.50" lengthAdjust="spacingAndGlyphs" stroke="#222" stroke-width="0.16" >BMPC</text>
<line x1="335.40" y1="282.00" x2="335.40" y2="285.00" stroke="#262626" stroke-width="0.9" />
<text x="335.70" y="293.30" font-size="6.5" text-anchor="middle" fill="#222" textLength="18.30" lengthAdjust="spacingAndGlyphs" stroke="#222" stroke-width="0.16" >MGUS</text>
<line x1="357.50" y1="282.00" x2="357.50" y2="285.00" stroke="#262626" stroke-width="0.9" />
<text x="357.80" y="293.30" font-size="6.5" text-anchor="middle" fill="#222" textLength="17.80" lengthAdjust="spacingAndGlyphs" stroke="#222" stroke-width="0.16" >smMM</text>
<text transform="translate(270.90,226.80) rotate(-90)" x="0" y="0" font-size="7" text-anchor="middle" fill="#222" textLength="53.80" lengthAdjust="spacingAndGlyphs" stroke="#222" stroke-width="0.2"><tspan font-style="italic">G9a</tspan> expression (Log<tspan font-size="4.8" dy="1.3">2</tspan><tspan dy="-1.3">)</tspan></text>
<text transform="translate(280.60,227.00) rotate(-90)" x="0" y="0" font-size="7" text-anchor="middle" fill="#222" textLength="25.70" lengthAdjust="spacingAndGlyphs" stroke="#222" stroke-width="0.2">(GSE5900)</text>
<line x1="313.70" y1="179.00" x2="357.80" y2="179.00" stroke="#3c3c3c" stroke-width="1.1" />
<text x="335.75" y="178.70" font-size="5.6" text-anchor="middle" fill="#222" stroke="#222" stroke-width="0.25">*</text>
<line x1="313.70" y1="192.10" x2="335.90" y2="192.10" stroke="#3c3c3c" stroke-width="1.1" />
<text x="324.80" y="191.80" font-size="5.6" text-anchor="middle" fill="#222" stroke="#222" stroke-width="0.25">*</text>
<path d="M314.10,211.00 C314.12,211.33 314.18,212.25 314.25,213.00 C314.32,213.75 314.31,214.83 314.50,215.50 C314.69,216.17 315.02,216.32 315.40,217.00 C315.78,217.68 316.42,218.68 316.80,219.60 C317.18,220.52 317.47,221.55 317.70,222.50 C317.93,223.45 318.03,224.22 318.20,225.30 C318.37,226.38 318.62,227.88 318.70,229.00 C318.78,230.12 318.85,230.93 318.70,232.00 C318.55,233.07 318.07,234.48 317.80,235.40 C317.53,236.32 317.23,236.90 317.10,237.50 C316.97,238.10 316.88,238.33 317.00,239.00 C317.12,239.67 317.42,240.67 317.80,241.50 C318.18,242.33 318.83,242.98 319.30,244.00 C319.77,245.02 320.52,246.60 320.60,247.60 C320.68,248.60 320.18,249.27 319.80,250.00 C319.42,250.73 318.90,251.33 318.30,252.00 C317.70,252.67 316.75,253.42 316.20,254.00 C315.65,254.58 315.30,254.83 315.00,255.50 C314.70,256.17 314.55,257.03 314.40,258.00 C314.25,258.97 314.15,260.75 314.10,261.30 L313.50,261.30 C313.45,260.75 313.35,258.97 313.20,258.00 C313.05,257.03 312.90,256.17 312.60,255.50 C312.30,254.83 311.95,254.58 311.40,254.00 C310.85,253.42 309.90,252.67 309.30,252.00 C308.70,251.33 308.18,250.73 307.80,250.00 C307.42,249.27 306.92,248.60 307.00,247.60 C307.08,246.60 307.83,245.02 308.30,244.00 C308.77,242.98 309.42,242.33 309.80,241.50 C310.18,240.67 310.48,239.67 310.60,239.00 C310.72,238.33 310.63,238.10 310.50,237.50 C310.37,236.90 310.07,236.32 309.80,235.40 C309.53,234.48 309.05,233.07 308.90,232.00 C308.75,230.93 308.82,230.12 308.90,229.00 C308.98,227.88 309.23,226.38 309.40,225.30 C309.57,224.22 309.67,223.45 309.90,222.50 C310.13,221.55 310.42,220.52 310.80,219.60 C311.18,218.68 311.82,217.68 312.20,217.00 C312.58,216.32 312.91,216.17 313.10,215.50 C313.29,214.83 313.28,213.75 313.35,213.00 C313.42,212.25 313.48,211.33 313.50,211.00Z" fill="#cdcdce" stroke="#363636" stroke-width="0.85" stroke-linejoin="round"/>
<line x1="310.00" y1="225.30" x2="317.60" y2="225.30" stroke="#363636" stroke-width="0.55" stroke-dasharray="0.6,0.9"/>
<line x1="309.84" y1="233.30" x2="317.76" y2="233.30" stroke="#363636" stroke-width="0.8" stroke-dasharray="1.4,1.1"/>
<line x1="307.60" y1="247.60" x2="320.00" y2="247.60" stroke="#363636" stroke-width="0.55" stroke-dasharray="0.6,0.9"/>
<path d="M335.70,202.30 C335.72,202.75 335.75,204.05 335.80,205.00 C335.85,205.95 335.90,207.17 336.00,208.00 C336.10,208.83 336.20,209.42 336.40,210.00 C336.60,210.58 336.83,210.92 337.20,211.50 C337.57,212.08 338.13,212.87 338.60,213.50 C339.07,214.13 339.50,214.63 340.00,215.30 C340.50,215.97 341.20,216.78 341.60,217.50 C342.00,218.22 342.27,218.65 342.40,219.60 C342.53,220.55 342.57,222.22 342.40,223.20 C342.23,224.18 341.68,224.78 341.40,225.50 C341.12,226.22 340.87,226.58 340.70,227.50 C340.53,228.42 340.45,229.58 340.40,231.00 C340.35,232.42 340.40,234.30 340.40,236.00 C340.40,237.70 340.43,239.78 340.40,241.20 C340.37,242.62 340.33,243.53 340.20,244.50 C340.07,245.47 339.85,246.17 339.60,247.00 C339.35,247.83 339.00,248.80 338.70,249.50 C338.40,250.20 338.10,250.62 337.80,251.20 C337.50,251.78 337.15,252.40 336.90,253.00 C336.65,253.60 336.47,254.13 336.30,254.80 C336.13,255.47 336.00,256.15 335.90,257.00 C335.80,257.85 335.73,259.42 335.70,259.90 L335.10,259.90 C335.07,259.42 335.00,257.85 334.90,257.00 C334.80,256.15 334.67,255.47 334.50,254.80 C334.33,254.13 334.15,253.60 333.90,253.00 C333.65,252.40 333.30,251.78 333.00,251.20 C332.70,250.62 332.40,250.20 332.10,249.50 C331.80,248.80 331.45,247.83 331.20,247.00 C330.95,246.17 330.73,245.47 330.60,244.50 C330.47,243.53 330.43,242.62 330.40,241.20 C330.37,239.78 330.40,237.70 330.40,236.00 C330.40,234.30 330.45,232.42 330.40,231.00 C330.35,229.58 330.27,228.42 330.10,227.50 C329.93,226.58 329.68,226.22 329.40,225.50 C329.12,224.78 328.57,224.18 328.40,223.20 C328.23,222.22 328.27,220.55 328.40,219.60 C328.53,218.65 328.80,218.22 329.20,217.50 C329.60,216.78 330.30,215.97 330.80,215.30 C331.30,214.63 331.73,214.13 332.20,213.50 C332.67,212.87 333.23,212.08 333.60,211.50 C333.97,210.92 334.20,210.58 334.40,210.00 C334.60,209.42 334.70,208.83 334.80,208.00 C334.90,207.17 334.95,205.95 335.00,205.00 C335.05,204.05 335.08,202.75 335.10,202.30Z" fill="#a4c0da" stroke="#2a3a4c" stroke-width="0.85" stroke-linejoin="round"/>
<line x1="329.00" y1="223.20" x2="341.80" y2="223.20" stroke="#2a3a4c" stroke-width="0.55" stroke-dasharray="0.6,0.9"/>
<line x1="331.00" y1="232.50" x2="339.80" y2="232.50" stroke="#2a3a4c" stroke-width="0.8" stroke-dasharray="1.4,1.1"/>
<line x1="331.00" y1="241.20" x2="339.80" y2="241.20" stroke="#2a3a4c" stroke-width="0.55" stroke-dasharray="0.6,0.9"/>
<path d="M357.50,196.80 C357.53,197.25 357.63,198.55 357.70,199.50 C357.77,200.45 357.77,201.75 357.90,202.50 C358.03,203.25 358.27,203.47 358.50,204.00 C358.73,204.53 358.92,205.03 359.30,205.70 C359.68,206.37 360.30,207.18 360.80,208.00 C361.30,208.82 361.85,209.77 362.30,210.60 C362.75,211.43 363.17,212.20 363.50,213.00 C363.83,213.80 364.12,214.45 364.30,215.40 C364.48,216.35 364.67,217.77 364.60,218.70 C364.53,219.63 364.22,220.18 363.90,221.00 C363.58,221.82 363.13,222.83 362.70,223.60 C362.27,224.37 361.70,224.93 361.30,225.60 C360.90,226.27 360.62,226.73 360.30,227.60 C359.98,228.47 359.55,229.58 359.40,230.80 C359.25,232.02 359.33,233.87 359.40,234.90 C359.47,235.93 359.63,236.32 359.80,237.00 C359.97,237.68 360.15,237.87 360.40,239.00 C360.65,240.13 361.22,242.63 361.30,243.80 C361.38,244.97 361.07,245.32 360.90,246.00 C360.73,246.68 360.55,247.15 360.30,247.90 C360.05,248.65 359.67,249.70 359.40,250.50 C359.13,251.30 358.93,251.78 358.70,252.70 C358.47,253.62 358.17,254.78 358.00,256.00 C357.83,257.22 357.78,258.38 357.70,260.00 C357.62,261.62 357.53,264.75 357.50,265.70 L357.10,265.70 C357.07,264.75 356.98,261.62 356.90,260.00 C356.82,258.38 356.77,257.22 356.60,256.00 C356.43,254.78 356.13,253.62 355.90,252.70 C355.67,251.78 355.47,251.30 355.20,250.50 C354.93,249.70 354.55,248.65 354.30,247.90 C354.05,247.15 353.87,246.68 353.70,246.00 C353.53,245.32 353.22,244.97 353.30,243.80 C353.38,242.63 353.95,240.13 354.20,239.00 C354.45,237.87 354.63,237.68 354.80,237.00 C354.97,236.32 355.13,235.93 355.20,234.90 C355.27,233.87 355.35,232.02 355.20,230.80 C355.05,229.58 354.62,228.47 354.30,227.60 C353.98,226.73 353.70,226.27 353.30,225.60 C352.90,224.93 352.33,224.37 351.90,223.60 C351.47,222.83 351.02,221.82 350.70,221.00 C350.38,220.18 350.07,219.63 350.00,218.70 C349.93,217.77 350.12,216.35 350.30,215.40 C350.48,214.45 350.77,213.80 351.10,213.00 C351.43,212.20 351.85,211.43 352.30,210.60 C352.75,209.77 353.30,208.82 353.80,208.00 C354.30,207.18 354.92,206.37 355.30,205.70 C355.68,205.03 355.87,204.53 356.10,204.00 C356.33,203.47 356.57,203.25 356.70,202.50 C356.83,201.75 356.83,200.45 356.90,199.50 C356.97,198.55 357.07,197.25 357.10,196.80Z" fill="#bca4d0" stroke="#3e2e4a" stroke-width="0.85" stroke-linejoin="round"/>
<line x1="351.17" y1="214.60" x2="363.43" y2="214.60" stroke="#3e2e4a" stroke-width="0.55" stroke-dasharray="0.6,0.9"/>
<line x1="351.35" y1="221.10" x2="363.25" y2="221.10" stroke="#3e2e4a" stroke-width="0.8" stroke-dasharray="1.4,1.1"/>
<line x1="353.90" y1="243.80" x2="360.70" y2="243.80" stroke="#3e2e4a" stroke-width="0.55" stroke-dasharray="0.6,0.9"/>
<line x1="421.70" y1="173.30" x2="421.70" y2="282.45" stroke="#262626" stroke-width="1.15" />
<line x1="421.15" y1="281.90" x2="494.00" y2="281.90" stroke="#262626" stroke-width="1.15" />
<line x1="418.70" y1="173.90" x2="421.70" y2="173.90" stroke="#262626" stroke-width="0.9" />
<text x="415.90" y="176.00" font-size="5.9" text-anchor="end" fill="#333" stroke="#333" stroke-width="0.16" >10</text>
<line x1="418.70" y1="195.50" x2="421.70" y2="195.50" stroke="#262626" stroke-width="0.9" />
<text x="415.90" y="197.60" font-size="5.9" text-anchor="end" fill="#333" stroke="#333" stroke-width="0.16" >8</text>
<line x1="418.70" y1="217.10" x2="421.70" y2="217.10" stroke="#262626" stroke-width="0.9" />
<text x="415.90" y="219.20" font-size="5.9" text-anchor="end" fill="#333" stroke="#333" stroke-width="0.16" >6</text>
<line x1="418.70" y1="238.70" x2="421.70" y2="238.70" stroke="#262626" stroke-width="0.9" />
<text x="415.90" y="240.80" font-size="5.9" text-anchor="end" fill="#333" stroke="#333" stroke-width="0.16" >4</text>
<line x1="418.70" y1="260.30" x2="421.70" y2="260.30" stroke="#262626" stroke-width="0.9" />
<text x="415.90" y="262.40" font-size="5.9" text-anchor="end" fill="#333" stroke="#333" stroke-width="0.16" >2</text>
<line x1="418.70" y1="281.90" x2="421.70" y2="281.90" stroke="#262626" stroke-width="0.9" />
<text x="415.90" y="284.00" font-size="5.9" text-anchor="end" fill="#333" stroke="#333" stroke-width="0.16" >0</text>
<line x1="435.80" y1="281.90" x2="435.80" y2="284.90" stroke="#262626" stroke-width="0.9" />
<text x="436.10" y="293.20" font-size="6.5" text-anchor="middle" fill="#222" textLength="18.30" lengthAdjust="spacingAndGlyphs" stroke="#222" stroke-width="0.16" >MGUS</text>
<line x1="457.50" y1="281.90" x2="457.50" y2="284.90" stroke="#262626" stroke-width="0.9" />
<text x="457.80" y="293.20" font-size="6.5" text-anchor="middle" fill="#222" textLength="10.50" lengthAdjust="spacingAndGlyphs" stroke="#222" stroke-width="0.16" >MM</text>
<line x1="479.40" y1="281.90" x2="479.40" y2="284.90" stroke="#262626" stroke-width="0.9" />
<text x="479.70" y="293.20" font-size="6.5" text-anchor="middle" fill="#222" textLength="12.00" lengthAdjust="spacingAndGlyphs" stroke="#222" stroke-width="0.16" >PCL</text>
<text transform="translate(393.50,226.80) rotate(-90)" x="0" y="0" font-size="7" text-anchor="middle" fill="#222" textLength="53.70" lengthAdjust="spacingAndGlyphs" stroke="#222" stroke-width="0.2"><tspan font-style="italic">G9a</tspan> expression (Log<tspan font-size="4.8" dy="1.3">2</tspan><tspan dy="-1.3">)</tspan></text>
<text transform="translate(402.60,226.00) rotate(-90)" x="0" y="0" font-size="7" text-anchor="middle" fill="#222" textLength="26.30" lengthAdjust="spacingAndGlyphs" stroke="#222" stroke-width="0.2">(GSE2113)</text>
<line x1="435.80" y1="179.20" x2="479.00" y2="179.20" stroke="#3c3c3c" stroke-width="1.1" />
<text x="457.40" y="178.90" font-size="5.6" text-anchor="middle" fill="#222" stroke="#222" stroke-width="0.25">**</text>
<line x1="435.80" y1="196.00" x2="457.70" y2="196.00" stroke="#3c3c3c" stroke-width="1.1" />
<text x="446.75" y="195.70" font-size="5.6" text-anchor="middle" fill="#222" stroke="#222" stroke-width="0.25">**</text>
<path d="M436.00,212.40 C436.10,212.75 436.18,213.73 436.60,214.50 C437.02,215.27 437.75,216.00 438.50,217.00 C439.25,218.00 440.40,219.32 441.10,220.50 C441.80,221.68 442.67,223.10 442.70,224.10 C442.73,225.10 441.90,225.77 441.30,226.50 C440.70,227.23 439.60,227.92 439.10,228.50 C438.60,229.08 438.53,229.25 438.30,230.00 C438.07,230.75 437.80,231.83 437.70,233.00 C437.60,234.17 437.78,235.68 437.70,237.00 C437.62,238.32 437.42,239.73 437.20,240.90 C436.98,242.07 436.60,242.92 436.40,244.00 C436.20,245.08 436.07,246.83 436.00,247.40 L435.40,247.40 C435.33,246.83 435.20,245.08 435.00,244.00 C434.80,242.92 434.42,242.07 434.20,240.90 C433.98,239.73 433.78,238.32 433.70,237.00 C433.62,235.68 433.80,234.17 433.70,233.00 C433.60,231.83 433.33,230.75 433.10,230.00 C432.87,229.25 432.80,229.08 432.30,228.50 C431.80,227.92 430.70,227.23 430.10,226.50 C429.50,225.77 428.67,225.10 428.70,224.10 C428.73,223.10 429.60,221.68 430.30,220.50 C431.00,219.32 432.15,218.00 432.90,217.00 C433.65,216.00 434.38,215.27 434.80,214.50 C435.22,213.73 435.30,212.75 435.40,212.40Z" fill="#cdcdce" stroke="#363636" stroke-width="0.85" stroke-linejoin="round"/>
<line x1="430.54" y1="221.30" x2="440.86" y2="221.30" stroke="#363636" stroke-width="0.55" stroke-dasharray="0.6,0.9"/>
<line x1="429.34" y1="224.00" x2="442.06" y2="224.00" stroke="#363636" stroke-width="0.8" stroke-dasharray="1.4,1.1"/>
<line x1="431.03" y1="226.80" x2="440.37" y2="226.80" stroke="#363636" stroke-width="0.55" stroke-dasharray="0.6,0.9"/>
<path d="M457.70,198.50 C457.77,199.00 457.90,200.58 458.10,201.50 C458.30,202.42 458.42,203.08 458.90,204.00 C459.38,204.92 460.32,206.00 461.00,207.00 C461.68,208.00 462.50,208.73 463.00,210.00 C463.50,211.27 463.87,213.27 464.00,214.60 C464.13,215.93 463.93,217.03 463.80,218.00 C463.67,218.97 463.63,219.48 463.20,220.40 C462.77,221.32 461.87,222.48 461.20,223.50 C460.53,224.52 459.68,225.55 459.20,226.50 C458.72,227.45 458.42,228.37 458.30,229.20 C458.18,230.03 458.35,230.73 458.50,231.50 C458.65,232.27 459.18,233.05 459.20,233.80 C459.22,234.55 458.80,235.30 458.60,236.00 C458.40,236.70 458.15,237.32 458.00,238.00 C457.85,238.68 457.75,239.75 457.70,240.10 L457.10,240.10 C457.05,239.75 456.95,238.68 456.80,238.00 C456.65,237.32 456.40,236.70 456.20,236.00 C456.00,235.30 455.58,234.55 455.60,233.80 C455.62,233.05 456.15,232.27 456.30,231.50 C456.45,230.73 456.62,230.03 456.50,229.20 C456.38,228.37 456.08,227.45 455.60,226.50 C455.12,225.55 454.27,224.52 453.60,223.50 C452.93,222.48 452.03,221.32 451.60,220.40 C451.17,219.48 451.13,218.97 451.00,218.00 C450.87,217.03 450.67,215.93 450.80,214.60 C450.93,213.27 451.30,211.27 451.80,210.00 C452.30,208.73 453.12,208.00 453.80,207.00 C454.48,206.00 455.42,204.92 455.90,204.00 C456.38,203.08 456.50,202.42 456.70,201.50 C456.90,200.58 457.03,199.00 457.10,198.50Z" fill="#a4c0da" stroke="#2a3a4c" stroke-width="0.85" stroke-linejoin="round"/>
<line x1="452.73" y1="209.50" x2="462.07" y2="209.50" stroke="#2a3a4c" stroke-width="0.55" stroke-dasharray="0.6,0.9"/>
<line x1="451.53" y1="214.00" x2="463.27" y2="214.00" stroke="#2a3a4c" stroke-width="0.8" stroke-dasharray="1.4,1.1"/>
<line x1="451.80" y1="218.80" x2="463.00" y2="218.80" stroke="#2a3a4c" stroke-width="0.55" stroke-dasharray="0.6,0.9"/>
<path d="M479.30,206.60 C479.45,206.92 479.62,207.85 480.20,208.50 C480.78,209.15 482.00,209.92 482.80,210.50 C483.60,211.08 484.47,211.53 485.00,212.00 C485.53,212.47 486.08,212.83 486.00,213.30 C485.92,213.77 485.17,214.27 484.50,214.80 C483.83,215.33 482.57,215.93 482.00,216.50 C481.43,217.07 481.25,217.28 481.10,218.20 C480.95,219.12 481.15,220.70 481.10,222.00 C481.05,223.30 480.97,224.92 480.80,226.00 C480.63,227.08 480.35,227.72 480.10,228.50 C479.85,229.28 479.43,230.33 479.30,230.70 L478.70,230.70 C478.57,230.33 478.15,229.28 477.90,228.50 C477.65,227.72 477.37,227.08 477.20,226.00 C477.03,224.92 476.95,223.30 476.90,222.00 C476.85,220.70 477.05,219.12 476.90,218.20 C476.75,217.28 476.57,217.07 476.00,216.50 C475.43,215.93 474.17,215.33 473.50,214.80 C472.83,214.27 472.08,213.77 472.00,213.30 C471.92,212.83 472.47,212.47 473.00,212.00 C473.53,211.53 474.40,211.08 475.20,210.50 C476.00,209.92 477.22,209.15 477.80,208.50 C478.38,207.85 478.55,206.92 478.70,206.60Z" fill="#bca4d0" stroke="#3e2e4a" stroke-width="0.85" stroke-linejoin="round"/>
<line x1="474.77" y1="211.20" x2="483.23" y2="211.20" stroke="#3e2e4a" stroke-width="0.55" stroke-dasharray="0.6,0.9"/>
<line x1="472.68" y1="213.20" x2="485.32" y2="213.20" stroke="#3e2e4a" stroke-width="0.8" stroke-dasharray="1.4,1.1"/>
<line x1="474.39" y1="215.00" x2="483.61" y2="215.00" stroke="#3e2e4a" stroke-width="0.55" stroke-dasharray="0.6,0.9"/>
<line x1="34.60" y1="334.20" x2="34.60" y2="394.15" stroke="#262626" stroke-width="1.15" />
<line x1="34.05" y1="393.60" x2="122.50" y2="393.60" stroke="#262626" stroke-width="1.15" />
<line x1="31.60" y1="336.40" x2="34.60" y2="336.40" stroke="#262626" stroke-width="0.9" />
<text x="28.70" y="338.50" font-size="6.1" text-anchor="end" fill="#222" stroke="#222" stroke-width="0.22">100</text>
<line x1="31.60" y1="347.84" x2="34.60" y2="347.84" stroke="#262626" stroke-width="0.9" />
<text x="28.70" y="349.94" font-size="6.1" text-anchor="end" fill="#222" stroke="#222" stroke-width="0.22">80</text>
<line x1="31.60" y1="359.28" x2="34.60" y2="359.28" stroke="#262626" stroke-width="0.9" />
<text x="28.70" y="361.38" font-size="6.1" text-anchor="end" fill="#222" stroke="#222" stroke-width="0.22">60</text>
<line x1="31.60" y1="370.72" x2="34.60" y2="370.72" stroke="#262626" stroke-width="0.9" />
<text x="28.70" y="372.82" font-size="6.1" text-anchor="end" fill="#222" stroke="#222" stroke-width="0.22">40</text>
<line x1="31.60" y1="382.16" x2="34.60" y2="382.16" stroke="#262626" stroke-width="0.9" />
<text x="28.70" y="384.26" font-size="6.1" text-anchor="end" fill="#222" stroke="#222" stroke-width="0.22">20</text>
<line x1="31.60" y1="393.60" x2="34.60" y2="393.60" stroke="#262626" stroke-width="0.9" />
<text x="28.70" y="395.70" font-size="6.1" text-anchor="end" fill="#222" stroke="#222" stroke-width="0.22">0</text>
<line x1="34.80" y1="393.60" x2="34.80" y2="396.00" stroke="#262626" stroke-width="0.9" />
<text x="34.80" y="404.10" font-size="5.9" text-anchor="middle" fill="#222" stroke="#222" stroke-width="0.2">0</text>
<line x1="70.30" y1="393.60" x2="70.30" y2="396.00" stroke="#262626" stroke-width="0.9" />
<text x="70.30" y="404.10" font-size="5.9" text-anchor="middle" fill="#222" stroke="#222" stroke-width="0.2">500</text>
<line x1="105.80" y1="393.60" x2="105.80" y2="396.00" stroke="#262626" stroke-width="0.9" />
<text x="105.80" y="404.10" font-size="5.9" text-anchor="middle" fill="#222" stroke="#222" stroke-width="0.2">1000</text>
<line x1="38.35" y1="393.60" x2="38.35" y2="395.40" stroke="#262626" stroke-width="0.8" />
<line x1="41.90" y1="393.60" x2="41.90" y2="395.40" stroke="#262626" stroke-width="0.8" />
<line x1="45.45" y1="393.60" x2="45.45" y2="395.40" stroke="#262626" stroke-width="0.8" />
<line x1="49.00" y1="393.60" x2="49.00" y2="395.40" stroke="#262626" stroke-width="0.8" />
<line x1="52.55" y1="393.60" x2="52.55" y2="395.40" stroke="#262626" stroke-width="0.8" />
<line x1="56.10" y1="393.60" x2="56.10" y2="395.40" stroke="#262626" stroke-width="0.8" />
<line x1="59.65" y1="393.60" x2="59.65" y2="395.40" stroke="#262626" stroke-width="0.8" />
<line x1="63.20" y1="393.60" x2="63.20" y2="395.40" stroke="#262626" stroke-width="0.8" />
<line x1="66.75" y1="393.60" x2="66.75" y2="395.40" stroke="#262626" stroke-width="0.8" />
<line x1="73.85" y1="393.60" x2="73.85" y2="395.40" stroke="#262626" stroke-width="0.8" />
<line x1="77.40" y1="393.60" x2="77.40" y2="395.40" stroke="#262626" stroke-width="0.8" />
<line x1="80.95" y1="393.60" x2="80.95" y2="395.40" stroke="#262626" stroke-width="0.8" />
<line x1="84.50" y1="393.60" x2="84.50" y2="395.40" stroke="#262626" stroke-width="0.8" />
<line x1="88.05" y1="393.60" x2="88.05" y2="395.40" stroke="#262626" stroke-width="0.8" />
<line x1="91.60" y1="393.60" x2="91.60" y2="395.40" stroke="#262626" stroke-width="0.8" />
<line x1="95.15" y1="393.60" x2="95.15" y2="395.40" stroke="#262626" stroke-width="0.8" />
<line x1="98.70" y1="393.60" x2="98.70" y2="395.40" stroke="#262626" stroke-width="0.8" />
<line x1="102.25" y1="393.60" x2="102.25" y2="395.40" stroke="#262626" stroke-width="0.8" />
<line x1="109.35" y1="393.60" x2="109.35" y2="395.40" stroke="#262626" stroke-width="0.8" />
<line x1="112.90" y1="393.60" x2="112.90" y2="395.40" stroke="#262626" stroke-width="0.8" />
<line x1="116.45" y1="393.60" x2="116.45" y2="395.40" stroke="#262626" stroke-width="0.8" />
<line x1="120.00" y1="393.60" x2="120.00" y2="395.40" stroke="#262626" stroke-width="0.8" />
<line x1="123.55" y1="393.60" x2="123.55" y2="395.40" stroke="#262626" stroke-width="0.8" />
<path d="M35.60,336.40 L38.50,336.40 L38.50,337.50 L40.80,337.50 L40.80,338.80 L42.50,338.80 L42.50,341.60 L51.20,341.60 L51.20,350.40 L59.80,350.40 L59.80,353.10 L72.80,353.10 L72.80,359.30 L83.20,359.30 L83.20,368.20 L106.50,368.20 L106.50,368.20" fill="none" stroke="#7cbfd0" stroke-width="1.0" stroke-linejoin="miter"/>
<path d="M35.60,336.40 L36.80,336.40 L36.80,337.60 L38.00,337.60 L38.00,338.80 L39.10,338.80 L39.10,339.60 L40.30,339.60 L40.30,341.00 L41.50,341.00 L41.50,342.20 L42.50,342.20 L42.50,343.00 L43.40,343.00 L43.40,343.90 L44.60,343.90 L44.60,345.20 L45.70,345.20 L45.70,346.30 L46.80,346.30 L46.80,347.40 L47.70,347.40 L47.70,348.30 L49.00,348.30 L49.00,349.40 L50.50,349.40 L50.50,350.50 L52.00,350.50 L52.00,351.70 L53.20,351.70 L53.20,353.20 L54.40,353.20 L54.40,354.60 L55.50,354.60 L55.50,355.80 L56.40,355.80 L56.40,356.90 L57.60,356.90 L57.60,358.20 L58.80,358.20 L58.80,359.40 L60.70,359.40 L60.70,361.10 L62.00,361.10 L62.00,361.90 L63.50,361.90 L63.50,362.70 L65.00,362.70 L65.00,363.80 L66.40,363.80 L66.40,365.60 L67.80,365.60 L67.80,367.30 L69.30,367.30 L69.30,369.00 L71.50,369.00 L71.50,369.60 L74.50,369.60 L74.50,370.70 L76.20,370.70 L76.20,372.00 L78.00,372.00 L78.00,373.00 L79.70,373.00 L79.70,374.10 L82.50,374.10 L82.50,375.00 L84.90,375.00 L84.90,375.80 L86.50,375.80 L86.50,377.00 L88.30,377.00 L88.30,378.20 L90.10,378.20 L90.10,379.30 L102.20,379.30 L102.20,384.20 L110.90,384.20 L110.90,384.20" fill="none" stroke="#c25a74" stroke-width="1.0" stroke-linejoin="miter"/>
<text x="38.50" y="388.10" font-size="6.3" text-anchor="start" fill="#333" textLength="22.50" lengthAdjust="spacingAndGlyphs" stroke="#333" stroke-width="0.16" ><tspan font-style="italic">P</tspan> = .085</text>
<text x="79.40" y="329.40" font-size="8.4" text-anchor="middle" font-style="italic" fill="#222" textLength="15.00" lengthAdjust="spacingAndGlyphs" stroke="#222" stroke-width="0.2">G9a</text>
<text x="79.10" y="415.90" font-size="8.1" text-anchor="middle" fill="#1a1a1a" textLength="32.40" lengthAdjust="spacingAndGlyphs" stroke="#1a1a1a" stroke-width="0.38">Days elapsed</text>
<text transform="translate(12.20,361.00) rotate(-90)" x="0" y="0" font-size="7.6" text-anchor="middle" fill="#1a1a1a" textLength="37.10" lengthAdjust="spacingAndGlyphs" stroke="#1a1a1a" stroke-width="0.42">Overall survival</text>
<line x1="27.80" y1="425.80" x2="38.20" y2="425.80" stroke="#9ccfdc" stroke-width="0.9" />
<line x1="27.80" y1="435.30" x2="38.20" y2="435.30" stroke="#c07086" stroke-width="0.9" />
<text x="41.60" y="427.70" font-size="6.2" text-anchor="start" fill="#333" textLength="63.50" lengthAdjust="spacingAndGlyphs" stroke="#333" stroke-width="0.16" >Low Expression (n = 20)</text>
<text x="41.60" y="437.20" font-size="6.2" text-anchor="start" fill="#333" textLength="64.40" lengthAdjust="spacingAndGlyphs" stroke="#333" stroke-width="0.16" >High Expression (n = 63)</text>
<line x1="160.60" y1="333.50" x2="160.60" y2="393.95" stroke="#262626" stroke-width="1.15" />
<line x1="160.05" y1="393.40" x2="247.00" y2="393.40" stroke="#262626" stroke-width="1.15" />
<line x1="157.60" y1="341.90" x2="160.60" y2="341.90" stroke="#262626" stroke-width="0.9" />
<text x="154.70" y="344.00" font-size="6.1" text-anchor="end" fill="#222" stroke="#222" stroke-width="0.22">1.0</text>
<line x1="157.60" y1="367.65" x2="160.60" y2="367.65" stroke="#262626" stroke-width="0.9" />
<text x="154.70" y="369.75" font-size="6.1" text-anchor="end" fill="#222" stroke="#222" stroke-width="0.22">0.5</text>
<line x1="157.60" y1="393.40" x2="160.60" y2="393.40" stroke="#262626" stroke-width="0.9" />
<text x="154.70" y="395.50" font-size="6.1" text-anchor="end" fill="#222" stroke="#222" stroke-width="0.22">0.0</text>
<line x1="160.60" y1="391.80" x2="160.60" y2="395.80" stroke="#262626" stroke-width="0.9" />
<text x="160.60" y="404.10" font-size="5.9" text-anchor="middle" fill="#222" stroke="#222" stroke-width="0.2">0</text>
<line x1="182.00" y1="391.80" x2="182.00" y2="395.80" stroke="#262626" stroke-width="0.9" />
<text x="182.00" y="404.10" font-size="5.9" text-anchor="middle" fill="#222" stroke="#222" stroke-width="0.2">1000</text>
<line x1="203.40" y1="391.80" x2="203.40" y2="395.80" stroke="#262626" stroke-width="0.9" />
<text x="203.40" y="404.10" font-size="5.9" text-anchor="middle" fill="#222" stroke="#222" stroke-width="0.2">2000</text>
<line x1="224.80" y1="391.80" x2="224.80" y2="395.80" stroke="#262626" stroke-width="0.9" />
<text x="224.80" y="404.10" font-size="5.9" text-anchor="middle" fill="#222" stroke="#222" stroke-width="0.2">3000</text>
<line x1="246.20" y1="391.80" x2="246.20" y2="395.80" stroke="#262626" stroke-width="0.9" />
<text x="246.20" y="404.10" font-size="5.9" text-anchor="middle" fill="#222" stroke="#222" stroke-width="0.2">4000</text>
<line x1="159.30" y1="391.34" x2="161.60" y2="391.34" stroke="#262626" stroke-width="0.75" />
<line x1="159.30" y1="389.28" x2="161.60" y2="389.28" stroke="#262626" stroke-width="0.75" />
<line x1="159.30" y1="387.22" x2="161.60" y2="387.22" stroke="#262626" stroke-width="0.75" />
<line x1="159.30" y1="385.16" x2="161.60" y2="385.16" stroke="#262626" stroke-width="0.75" />
<line x1="159.30" y1="383.10" x2="161.60" y2="383.10" stroke="#262626" stroke-width="0.75" />
<line x1="159.30" y1="381.04" x2="161.60" y2="381.04" stroke="#262626" stroke-width="0.75" />
<line x1="159.30" y1="378.98" x2="161.60" y2="378.98" stroke="#262626" stroke-width="0.75" />
<line x1="159.30" y1="376.92" x2="161.60" y2="376.92" stroke="#262626" stroke-width="0.75" />
<line x1="159.30" y1="374.86" x2="161.60" y2="374.86" stroke="#262626" stroke-width="0.75" />
<line x1="159.30" y1="372.80" x2="161.60" y2="372.80" stroke="#262626" stroke-width="0.75" />
<line x1="159.30" y1="370.74" x2="161.60" y2="370.74" stroke="#262626" stroke-width="0.75" />
<line x1="159.30" y1="368.68" x2="161.60" y2="368.68" stroke="#262626" stroke-width="0.75" />
<line x1="159.30" y1="366.62" x2="161.60" y2="366.62" stroke="#262626" stroke-width="0.75" />
<line x1="159.30" y1="364.56" x2="161.60" y2="364.56" stroke="#262626" stroke-width="0.75" />
<line x1="159.30" y1="362.50" x2="161.60" y2="362.50" stroke="#262626" stroke-width="0.75" />
<line x1="159.30" y1="360.44" x2="161.60" y2="360.44" stroke="#262626" stroke-width="0.75" />
<line x1="159.30" y1="358.38" x2="161.60" y2="358.38" stroke="#262626" stroke-width="0.75" />
<line x1="159.30" y1="356.32" x2="161.60" y2="356.32" stroke="#262626" stroke-width="0.75" />
<line x1="159.30" y1="354.26" x2="161.60" y2="354.26" stroke="#262626" stroke-width="0.75" />
<line x1="159.30" y1="352.20" x2="161.60" y2="352.20" stroke="#262626" stroke-width="0.75" />
<line x1="159.30" y1="350.14" x2="161.60" y2="350.14" stroke="#262626" stroke-width="0.75" />
<line x1="159.30" y1="348.08" x2="161.60" y2="348.08" stroke="#262626" stroke-width="0.75" />
<line x1="159.30" y1="346.02" x2="161.60" y2="346.02" stroke="#262626" stroke-width="0.75" />
<line x1="159.30" y1="343.96" x2="161.60" y2="343.96" stroke="#262626" stroke-width="0.75" />
<line x1="159.30" y1="341.90" x2="161.60" y2="341.90" stroke="#262626" stroke-width="0.75" />
<line x1="159.30" y1="339.84" x2="161.60" y2="339.84" stroke="#262626" stroke-width="0.75" />
<line x1="159.30" y1="337.78" x2="161.60" y2="337.78" stroke="#262626" stroke-width="0.75" />
<line x1="159.30" y1="335.72" x2="161.60" y2="335.72" stroke="#262626" stroke-width="0.75" />
<path d="M160.60,341.90 L166.20,343.80 L172.00,346.00 L180.00,349.20 L188.00,351.60 L195.00,353.50 L202.90,355.40 L207.00,357.20 L210.00,358.80 L214.00,359.40 L222.50,359.40" fill="none" stroke="#7cbfd0" stroke-width="1.0" stroke-linejoin="miter"/>
<path d="M160.60,341.90 L163.00,343.30 L166.20,344.60 L170.00,347.70 L174.60,352.70 L180.00,355.00 L188.00,358.90 L192.00,360.50 L196.00,361.60 L202.90,363.40 L206.00,365.60 L209.00,368.00 L211.50,370.60 L221.70,370.60 L221.70,393.40" fill="none" stroke="#c25a74" stroke-width="1.0" stroke-linejoin="miter"/>
<text x="165.00" y="388.10" font-size="6.3" text-anchor="start" fill="#333" textLength="26.60" lengthAdjust="spacingAndGlyphs" stroke="#333" stroke-width="0.16" ><tspan font-style="italic">P</tspan> = .0001</text>
<text x="204.80" y="329.40" font-size="8.4" text-anchor="middle" font-style="italic" fill="#222" textLength="15.40" lengthAdjust="spacingAndGlyphs" stroke="#222" stroke-width="0.2">G9a</text>
<text x="205.00" y="415.90" font-size="8.1" text-anchor="middle" fill="#1a1a1a" textLength="31.70" lengthAdjust="spacingAndGlyphs" stroke="#1a1a1a" stroke-width="0.38">Days elapsed</text>
<text transform="translate(141.20,363.50) rotate(-90)" x="0" y="0" font-size="7.6" text-anchor="middle" fill="#1a1a1a" textLength="37.10" lengthAdjust="spacingAndGlyphs" stroke="#1a1a1a" stroke-width="0.42">Overall survival</text>
<line x1="160.00" y1="425.80" x2="170.00" y2="425.80" stroke="#9ccfdc" stroke-width="0.9" />
<line x1="160.00" y1="435.30" x2="170.00" y2="435.30" stroke="#c07086" stroke-width="0.9" />
<text x="172.80" y="427.70" font-size="6.2" text-anchor="start" fill="#333" textLength="68.10" lengthAdjust="spacingAndGlyphs" stroke="#333" stroke-width="0.16" >Low Expression (n = 332)</text>
<text x="172.80" y="437.20" font-size="6.2" text-anchor="start" fill="#333" textLength="69.20" lengthAdjust="spacingAndGlyphs" stroke="#333" stroke-width="0.16" >High Expression (n = 331)</text>
<line x1="293.50" y1="334.20" x2="293.50" y2="393.75" stroke="#262626" stroke-width="1.15" />
<line x1="292.95" y1="393.20" x2="382.00" y2="393.20" stroke="#262626" stroke-width="1.15" />
<line x1="290.50" y1="336.00" x2="293.50" y2="336.00" stroke="#262626" stroke-width="0.9" />
<text x="287.60" y="338.10" font-size="6.1" text-anchor="end" fill="#222" stroke="#222" stroke-width="0.22">100</text>
<line x1="290.50" y1="347.44" x2="293.50" y2="347.44" stroke="#262626" stroke-width="0.9" />
<text x="287.60" y="349.54" font-size="6.1" text-anchor="end" fill="#222" stroke="#222" stroke-width="0.22">80</text>
<line x1="290.50" y1="358.88" x2="293.50" y2="358.88" stroke="#262626" stroke-width="0.9" />
<text x="287.60" y="360.98" font-size="6.1" text-anchor="end" fill="#222" stroke="#222" stroke-width="0.22">60</text>
<line x1="290.50" y1="370.32" x2="293.50" y2="370.32" stroke="#262626" stroke-width="0.9" />
<text x="287.60" y="372.42" font-size="6.1" text-anchor="end" fill="#222" stroke="#222" stroke-width="0.22">40</text>
<line x1="290.50" y1="381.76" x2="293.50" y2="381.76" stroke="#262626" stroke-width="0.9" />
<text x="287.60" y="383.86" font-size="6.1" text-anchor="end" fill="#222" stroke="#222" stroke-width="0.22">20</text>
<line x1="290.50" y1="393.20" x2="293.50" y2="393.20" stroke="#262626" stroke-width="0.9" />
<text x="287.60" y="395.30" font-size="6.1" text-anchor="end" fill="#222" stroke="#222" stroke-width="0.22">0</text>
<line x1="293.50" y1="393.20" x2="293.50" y2="395.60" stroke="#262626" stroke-width="0.9" />
<text x="293.50" y="404.10" font-size="5.9" text-anchor="middle" fill="#222" stroke="#222" stroke-width="0.2">0</text>
<line x1="328.95" y1="393.20" x2="328.95" y2="395.60" stroke="#262626" stroke-width="0.9" />
<text x="328.95" y="404.10" font-size="5.9" text-anchor="middle" fill="#222" stroke="#222" stroke-width="0.2">500</text>
<line x1="364.40" y1="393.20" x2="364.40" y2="395.60" stroke="#262626" stroke-width="0.9" />
<text x="364.40" y="404.10" font-size="5.9" text-anchor="middle" fill="#222" stroke="#222" stroke-width="0.2">1000</text>
<line x1="297.05" y1="393.20" x2="297.05" y2="395.00" stroke="#262626" stroke-width="0.8" />
<line x1="300.59" y1="393.20" x2="300.59" y2="395.00" stroke="#262626" stroke-width="0.8" />
<line x1="304.13" y1="393.20" x2="304.13" y2="395.00" stroke="#262626" stroke-width="0.8" />
<line x1="307.68" y1="393.20" x2="307.68" y2="395.00" stroke="#262626" stroke-width="0.8" />
<line x1="311.23" y1="393.20" x2="311.23" y2="395.00" stroke="#262626" stroke-width="0.8" />
<line x1="314.77" y1="393.20" x2="314.77" y2="395.00" stroke="#262626" stroke-width="0.8" />
<line x1="318.31" y1="393.20" x2="318.31" y2="395.00" stroke="#262626" stroke-width="0.8" />
<line x1="321.86" y1="393.20" x2="321.86" y2="395.00" stroke="#262626" stroke-width="0.8" />
<line x1="325.40" y1="393.20" x2="325.40" y2="395.00" stroke="#262626" stroke-width="0.8" />
<line x1="332.50" y1="393.20" x2="332.50" y2="395.00" stroke="#262626" stroke-width="0.8" />
<line x1="336.04" y1="393.20" x2="336.04" y2="395.00" stroke="#262626" stroke-width="0.8" />
<line x1="339.58" y1="393.20" x2="339.58" y2="395.00" stroke="#262626" stroke-width="0.8" />
<line x1="343.13" y1="393.20" x2="343.13" y2="395.00" stroke="#262626" stroke-width="0.8" />
<line x1="346.68" y1="393.20" x2="346.68" y2="395.00" stroke="#262626" stroke-width="0.8" />
<line x1="350.22" y1="393.20" x2="350.22" y2="395.00" stroke="#262626" stroke-width="0.8" />
<line x1="353.76" y1="393.20" x2="353.76" y2="395.00" stroke="#262626" stroke-width="0.8" />
<line x1="357.31" y1="393.20" x2="357.31" y2="395.00" stroke="#262626" stroke-width="0.8" />
<line x1="360.86" y1="393.20" x2="360.86" y2="395.00" stroke="#262626" stroke-width="0.8" />
<line x1="367.94" y1="393.20" x2="367.94" y2="395.00" stroke="#262626" stroke-width="0.8" />
<line x1="371.49" y1="393.20" x2="371.49" y2="395.00" stroke="#262626" stroke-width="0.8" />
<line x1="375.04" y1="393.20" x2="375.04" y2="395.00" stroke="#262626" stroke-width="0.8" />
<line x1="378.58" y1="393.20" x2="378.58" y2="395.00" stroke="#262626" stroke-width="0.8" />
<line x1="382.12" y1="393.20" x2="382.12" y2="395.00" stroke="#262626" stroke-width="0.8" />
<path d="M294.20,336.00 L297.00,336.00 L297.00,336.60 L299.50,336.60 L299.50,337.50 L301.00,337.50 L301.00,338.80 L302.50,338.80 L302.50,340.70 L303.50,340.70 L303.50,343.80 L311.60,343.80 L311.60,347.30 L317.70,347.30 L317.70,351.60 L325.50,351.60 L325.50,356.80 L336.70,356.80 L336.70,360.30 L341.90,360.30 L341.90,363.70 L345.80,363.70 L345.80,368.00 L366.10,368.00 L366.10,368.00" fill="none" stroke="#7cbfd0" stroke-width="1.0" stroke-linejoin="miter"/>
<path d="M294.20,336.00 L296.00,336.00 L296.00,336.80 L297.20,336.80 L297.20,337.40 L298.00,337.40 L298.00,338.00 L299.50,338.00 L299.50,340.00 L300.50,340.00 L300.50,342.00 L302.00,342.00 L302.00,343.80 L303.50,343.80 L303.50,345.50 L305.00,345.50 L305.00,347.30 L306.50,347.30 L306.50,349.50 L308.00,349.50 L308.00,352.00 L309.50,352.00 L309.50,354.00 L311.00,354.00 L311.00,356.50 L312.50,356.50 L312.50,358.50 L314.00,358.50 L314.00,360.20 L316.00,360.20 L316.00,362.00 L318.00,362.00 L318.00,363.80 L320.00,363.80 L320.00,365.30 L322.00,365.30 L322.00,367.00 L324.00,367.00 L324.00,368.50 L326.00,368.50 L326.00,370.00 L329.00,370.00 L329.00,371.00 L332.00,371.00 L332.00,372.00 L335.00,372.00 L335.00,373.20 L338.00,373.20 L338.00,374.30 L341.00,374.30 L341.00,375.20 L344.00,375.20 L344.00,376.40 L347.00,376.40 L347.00,377.30 L350.00,377.30 L350.00,378.40 L361.00,378.40 L361.00,381.90 L368.70,381.90 L368.70,381.90" fill="none" stroke="#c25a74" stroke-width="1.0" stroke-linejoin="miter"/>
<text x="297.50" y="388.10" font-size="6.3" text-anchor="start" fill="#333" textLength="22.50" lengthAdjust="spacingAndGlyphs" stroke="#333" stroke-width="0.16" ><tspan font-style="italic">P</tspan> = .031</text>
<text x="337.20" y="329.40" font-size="8.4" text-anchor="middle" font-style="italic" fill="#222" textLength="27.60" lengthAdjust="spacingAndGlyphs" stroke="#222" stroke-width="0.2">DNMT1</text>
<text x="336.60" y="415.90" font-size="8.1" text-anchor="middle" fill="#1a1a1a" textLength="32.50" lengthAdjust="spacingAndGlyphs" stroke="#1a1a1a" stroke-width="0.38">Days elapsed</text>
<text transform="translate(271.60,363.90) rotate(-90)" x="0" y="0" font-size="7.6" text-anchor="middle" fill="#1a1a1a" textLength="37.10" lengthAdjust="spacingAndGlyphs" stroke="#1a1a1a" stroke-width="0.42">Overall survival</text>
<line x1="300.70" y1="425.80" x2="312.10" y2="425.80" stroke="#9ccfdc" stroke-width="0.9" />
<line x1="300.70" y1="435.30" x2="312.10" y2="435.30" stroke="#c07086" stroke-width="0.9" />
<text x="314.70" y="427.70" font-size="6.2" text-anchor="start" fill="#333" textLength="62.60" lengthAdjust="spacingAndGlyphs" stroke="#333" stroke-width="0.16" >Low Expression (n = 22)</text>
<text x="314.70" y="437.20" font-size="6.2" text-anchor="start" fill="#333" textLength="68.40" lengthAdjust="spacingAndGlyphs" stroke="#333" stroke-width="0.16" >High Expression (n = 127)</text>
<line x1="421.50" y1="334.30" x2="421.50" y2="393.65" stroke="#262626" stroke-width="1.15" />
<line x1="420.95" y1="393.10" x2="508.00" y2="393.10" stroke="#262626" stroke-width="1.15" />
<line x1="418.50" y1="342.50" x2="421.50" y2="342.50" stroke="#262626" stroke-width="0.9" />
<text x="415.60" y="344.60" font-size="6.1" text-anchor="end" fill="#222" stroke="#222" stroke-width="0.22">1.0</text>
<line x1="418.50" y1="367.80" x2="421.50" y2="367.80" stroke="#262626" stroke-width="0.9" />
<text x="415.60" y="369.90" font-size="6.1" text-anchor="end" fill="#222" stroke="#222" stroke-width="0.22">0.5</text>
<line x1="418.50" y1="393.10" x2="421.50" y2="393.10" stroke="#262626" stroke-width="0.9" />
<text x="415.60" y="395.20" font-size="6.1" text-anchor="end" fill="#222" stroke="#222" stroke-width="0.22">0.0</text>
<line x1="421.50" y1="391.50" x2="421.50" y2="395.50" stroke="#262626" stroke-width="0.9" />
<text x="421.50" y="404.10" font-size="5.9" text-anchor="middle" fill="#222" stroke="#222" stroke-width="0.2">0</text>
<line x1="442.65" y1="391.50" x2="442.65" y2="395.50" stroke="#262626" stroke-width="0.9" />
<text x="442.65" y="404.10" font-size="5.9" text-anchor="middle" fill="#222" stroke="#222" stroke-width="0.2">1000</text>
<line x1="463.80" y1="391.50" x2="463.80" y2="395.50" stroke="#262626" stroke-width="0.9" />
<text x="463.80" y="404.10" font-size="5.9" text-anchor="middle" fill="#222" stroke="#222" stroke-width="0.2">2000</text>
<line x1="484.95" y1="391.50" x2="484.95" y2="395.50" stroke="#262626" stroke-width="0.9" />
<text x="484.95" y="404.10" font-size="5.9" text-anchor="middle" fill="#222" stroke="#222" stroke-width="0.2">3000</text>
<line x1="506.10" y1="391.50" x2="506.10" y2="395.50" stroke="#262626" stroke-width="0.9" />
<text x="506.10" y="404.10" font-size="5.9" text-anchor="middle" fill="#222" stroke="#222" stroke-width="0.2">4000</text>
<line x1="420.20" y1="391.08" x2="422.50" y2="391.08" stroke="#262626" stroke-width="0.75" />
<line x1="420.20" y1="389.05" x2="422.50" y2="389.05" stroke="#262626" stroke-width="0.75" />
<line x1="420.20" y1="387.03" x2="422.50" y2="387.03" stroke="#262626" stroke-width="0.75" />
<line x1="420.20" y1="385.00" x2="422.50" y2="385.00" stroke="#262626" stroke-width="0.75" />
<line x1="420.20" y1="382.98" x2="422.50" y2="382.98" stroke="#262626" stroke-width="0.75" />
<line x1="420.20" y1="380.96" x2="422.50" y2="380.96" stroke="#262626" stroke-width="0.75" />
<line x1="420.20" y1="378.93" x2="422.50" y2="378.93" stroke="#262626" stroke-width="0.75" />
<line x1="420.20" y1="376.91" x2="422.50" y2="376.91" stroke="#262626" stroke-width="0.75" />
<line x1="420.20" y1="374.88" x2="422.50" y2="374.88" stroke="#262626" stroke-width="0.75" />
<line x1="420.20" y1="372.86" x2="422.50" y2="372.86" stroke="#262626" stroke-width="0.75" />
<line x1="420.20" y1="370.84" x2="422.50" y2="370.84" stroke="#262626" stroke-width="0.75" />
<line x1="420.20" y1="368.81" x2="422.50" y2="368.81" stroke="#262626" stroke-width="0.75" />
<line x1="420.20" y1="366.79" x2="422.50" y2="366.79" stroke="#262626" stroke-width="0.75" />
<line x1="420.20" y1="364.76" x2="422.50" y2="364.76" stroke="#262626" stroke-width="0.75" />
<line x1="420.20" y1="362.74" x2="422.50" y2="362.74" stroke="#262626" stroke-width="0.75" />
<line x1="420.20" y1="360.72" x2="422.50" y2="360.72" stroke="#262626" stroke-width="0.75" />
<line x1="420.20" y1="358.69" x2="422.50" y2="358.69" stroke="#262626" stroke-width="0.75" />
<line x1="420.20" y1="356.67" x2="422.50" y2="356.67" stroke="#262626" stroke-width="0.75" />
<line x1="420.20" y1="354.64" x2="422.50" y2="354.64" stroke="#262626" stroke-width="0.75" />
<line x1="420.20" y1="352.62" x2="422.50" y2="352.62" stroke="#262626" stroke-width="0.75" />
<line x1="420.20" y1="350.60" x2="422.50" y2="350.60" stroke="#262626" stroke-width="0.75" />
<line x1="420.20" y1="348.57" x2="422.50" y2="348.57" stroke="#262626" stroke-width="0.75" />
<line x1="420.20" y1="346.55" x2="422.50" y2="346.55" stroke="#262626" stroke-width="0.75" />
<line x1="420.20" y1="344.52" x2="422.50" y2="344.52" stroke="#262626" stroke-width="0.75" />
<line x1="420.20" y1="342.50" x2="422.50" y2="342.50" stroke="#262626" stroke-width="0.75" />
<line x1="420.20" y1="340.48" x2="422.50" y2="340.48" stroke="#262626" stroke-width="0.75" />
<line x1="420.20" y1="338.45" x2="422.50" y2="338.45" stroke="#262626" stroke-width="0.75" />
<line x1="420.20" y1="336.43" x2="422.50" y2="336.43" stroke="#262626" stroke-width="0.75" />
<path d="M421.50,342.50 L428.00,345.00 L435.00,347.80 L442.30,350.40 L450.00,352.80 L457.00,354.50 L463.80,355.60 L469.60,358.10 L484.00,358.10" fill="none" stroke="#7cbfd0" stroke-width="1.0" stroke-linejoin="miter"/>
<path d="M421.50,342.50 L425.00,344.30 L429.20,346.90 L432.00,350.50 L435.00,353.70 L442.30,357.00 L448.50,360.40 L456.20,361.90 L460.00,364.00 L463.80,366.20 L466.70,369.60 L470.60,371.00 L471.50,373.30 L482.50,373.30 L482.50,393.10" fill="none" stroke="#c25a74" stroke-width="1.0" stroke-linejoin="miter"/>
<text x="428.60" y="388.10" font-size="6.3" text-anchor="start" fill="#333" textLength="26.60" lengthAdjust="spacingAndGlyphs" stroke="#333" stroke-width="0.16" ><tspan font-style="italic">P</tspan> = .0001</text>
<text x="464.80" y="329.40" font-size="8.4" text-anchor="middle" font-style="italic" fill="#222" textLength="27.00" lengthAdjust="spacingAndGlyphs" stroke="#222" stroke-width="0.2">DNMT1</text>
<text x="464.60" y="415.90" font-size="8.1" text-anchor="middle" fill="#1a1a1a" textLength="32.00" lengthAdjust="spacingAndGlyphs" stroke="#1a1a1a" stroke-width="0.38">Days elapsed</text>
<text transform="translate(401.20,363.50) rotate(-90)" x="0" y="0" font-size="7.6" text-anchor="middle" fill="#1a1a1a" textLength="37.10" lengthAdjust="spacingAndGlyphs" stroke="#1a1a1a" stroke-width="0.42">Overall survival</text>
<line x1="422.60" y1="425.80" x2="434.00" y2="425.80" stroke="#9ccfdc" stroke-width="0.9" />
<line x1="422.60" y1="435.30" x2="434.00" y2="435.30" stroke="#c07086" stroke-width="0.9" />
<text x="437.20" y="427.70" font-size="6.2" text-anchor="start" fill="#333" textLength="66.80" lengthAdjust="spacingAndGlyphs" stroke="#333" stroke-width="0.16" >Low Expression (n = 332)</text>
<text x="437.20" y="437.20" font-size="6.2" text-anchor="start" fill="#333" textLength="68.20" lengthAdjust="spacingAndGlyphs" stroke="#333" stroke-width="0.16" >High Expression (n = 331)</text>
<path d="M0.5,445 V0.5 H519.5 V445" fill="none" stroke="#5a5a5a" stroke-width="1"/>
<path d="M519.5,0 V444.5 H0" fill="none" stroke="#383838" stroke-width="1"/>
</svg>
</body></html>
